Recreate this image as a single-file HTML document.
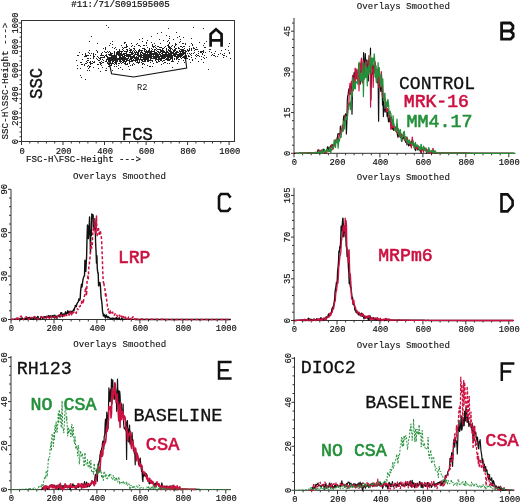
<!DOCTYPE html>
<html><head><meta charset="utf-8"><style>
html,body{margin:0;padding:0;background:#fff;width:520px;height:503px;overflow:hidden}
svg{display:block;will-change:transform}
text{font-family:"Liberation Mono",monospace}
</style></head><body>
<svg width="520" height="503" viewBox="0 0 520 503">
<rect width="520" height="503" fill="#fff"/>
<text x="71.2" y="7.4" font-family="Liberation Mono" font-size="9.15" font-weight="normal" fill="#111" text-anchor="start" stroke="#000" stroke-width="0.18">#11:/71/S091595005</text>
<rect x="21.5" y="20.5" width="213" height="121" fill="none" stroke="#333" stroke-width="1"/>
<path d="M21.5,141.5v3.5M29.8,141.5v2M38.1,141.5v2M46.4,141.5v2M54.7,141.5v2M63.0,141.5v3.5M71.3,141.5v2M79.6,141.5v2M87.9,141.5v2M96.2,141.5v2M104.5,141.5v3.5M112.8,141.5v2M121.1,141.5v2M129.5,141.5v2M137.8,141.5v2M146.1,141.5v3.5M154.4,141.5v2M162.7,141.5v2M171.0,141.5v2M179.3,141.5v2M187.6,141.5v3.5M195.9,141.5v2M204.2,141.5v2M212.5,141.5v2M220.8,141.5v2M229.1,141.5v3.5M21.5,141.5h-3M21.5,136.8h-2M21.5,132.0h-2M21.5,127.3h-2M21.5,122.5h-2M21.5,117.8h-3M21.5,113.1h-2M21.5,108.3h-2M21.5,103.6h-2M21.5,98.8h-2M21.5,94.1h-3M21.5,89.4h-2M21.5,84.6h-2M21.5,79.9h-2M21.5,75.1h-2M21.5,70.4h-3M21.5,65.7h-2M21.5,60.9h-2M21.5,56.2h-2M21.5,51.4h-2M21.5,46.7h-3M21.5,42.0h-2M21.5,37.2h-2M21.5,32.5h-2M21.5,27.7h-2M21.5,23.0h-3" stroke="#333" stroke-width="1" fill="none"/>
<text x="22.1" y="153.6" font-family="Liberation Mono" font-size="8.8" font-weight="normal" fill="#111" text-anchor="middle" stroke="#000" stroke-width="0.15">0</text>
<text transform="translate(18.2,141.5) rotate(-90)" x="0" y="0" font-family="Liberation Mono" font-size="8.8" font-weight="normal" fill="#111" text-anchor="middle" stroke="#000" stroke-width="0.15">0</text>
<text x="63.6" y="153.6" font-family="Liberation Mono" font-size="8.8" font-weight="normal" fill="#111" text-anchor="middle" stroke="#000" stroke-width="0.15">200</text>
<text transform="translate(18.2,117.8) rotate(-90)" x="0" y="0" font-family="Liberation Mono" font-size="8.8" font-weight="normal" fill="#111" text-anchor="middle" stroke="#000" stroke-width="0.15">200</text>
<text x="105.1" y="153.6" font-family="Liberation Mono" font-size="8.8" font-weight="normal" fill="#111" text-anchor="middle" stroke="#000" stroke-width="0.15">400</text>
<text transform="translate(18.2,94.1) rotate(-90)" x="0" y="0" font-family="Liberation Mono" font-size="8.8" font-weight="normal" fill="#111" text-anchor="middle" stroke="#000" stroke-width="0.15">400</text>
<text x="146.7" y="153.6" font-family="Liberation Mono" font-size="8.8" font-weight="normal" fill="#111" text-anchor="middle" stroke="#000" stroke-width="0.15">600</text>
<text transform="translate(18.2,70.4) rotate(-90)" x="0" y="0" font-family="Liberation Mono" font-size="8.8" font-weight="normal" fill="#111" text-anchor="middle" stroke="#000" stroke-width="0.15">600</text>
<text x="188.2" y="153.6" font-family="Liberation Mono" font-size="8.8" font-weight="normal" fill="#111" text-anchor="middle" stroke="#000" stroke-width="0.15">800</text>
<text transform="translate(18.2,46.7) rotate(-90)" x="0" y="0" font-family="Liberation Mono" font-size="8.8" font-weight="normal" fill="#111" text-anchor="middle" stroke="#000" stroke-width="0.15">800</text>
<text x="229.7" y="153.6" font-family="Liberation Mono" font-size="8.8" font-weight="normal" fill="#111" text-anchor="middle" stroke="#000" stroke-width="0.15">1000</text>
<text transform="translate(18.2,23.0) rotate(-90)" x="0" y="0" font-family="Liberation Mono" font-size="8.8" font-weight="normal" fill="#111" text-anchor="middle" stroke="#000" stroke-width="0.15">1000</text>
<text x="26.0" y="161.6" font-family="Liberation Mono" font-size="9.1" font-weight="normal" fill="#111" text-anchor="start" textLength="115" lengthAdjust="spacingAndGlyphs" stroke="#000" stroke-width="0.15">FSC-H\FSC-Height ---&gt;</text>
<text transform="translate(7.8,139.6) rotate(-90)" x="0" y="0" font-family="Liberation Mono" font-size="9.1" font-weight="normal" fill="#111" text-anchor="start" textLength="117" lengthAdjust="spacingAndGlyphs" stroke="#000" stroke-width="0.15">SSC-H\SSC-Height ---&gt;</text>
<text transform="translate(42.4,83.4) rotate(-90)" x="0" y="0" font-family="Liberation Mono" font-size="17.6" font-weight="normal" fill="#111" text-anchor="middle" textLength="31" lengthAdjust="spacingAndGlyphs" stroke="#111" stroke-width="0.45">SSC</text>
<text x="137.3" y="139.5" font-family="Liberation Mono" font-size="17.6" font-weight="normal" fill="#111" text-anchor="middle" textLength="31" lengthAdjust="spacingAndGlyphs" stroke="#111" stroke-width="0.45">FCS</text>
<path d="M210.6,46.8V34.2L216,29.3L221.6,34.2V46.8M210.6,40.4H221.6" stroke="#111" stroke-width="2.7" fill="none" stroke-linejoin="miter"/>
<path d="M157,55h1v1h-1zM177,52h1v1h-1zM170,54h1v1h-1zM124,56h1v1h-1zM128,54h1v1h-1zM175,52h1v1h-1zM105,61h1v1h-1zM172,56h1v1h-1zM172,57h1v1h-1zM145,49h1v1h-1zM130,55h1v1h-1zM129,55h1v1h-1zM131,57h1v1h-1zM143,54h1v1h-1zM147,53h1v1h-1zM153,57h1v1h-1zM189,53h1v1h-1zM172,49h1v1h-1zM157,59h1v1h-1zM186,56h1v1h-1zM126,55h1v1h-1zM120,60h1v1h-1zM154,52h1v1h-1zM112,61h1v1h-1zM109,57h1v1h-1zM148,52h1v1h-1zM145,54h1v1h-1zM183,50h1v1h-1zM156,55h1v1h-1zM148,56h1v1h-1zM147,56h1v1h-1zM128,55h1v1h-1zM110,43h1v1h-1zM122,58h1v1h-1zM161,47h1v1h-1zM121,58h1v1h-1zM135,60h1v1h-1zM109,59h1v1h-1zM173,52h1v1h-1zM119,57h1v1h-1zM128,56h1v1h-1zM177,51h1v1h-1zM149,53h1v1h-1zM173,50h1v1h-1zM158,58h1v1h-1zM163,54h1v1h-1zM113,61h1v1h-1zM153,54h1v1h-1zM144,56h1v1h-1zM175,53h1v1h-1zM137,58h1v1h-1zM154,57h1v1h-1zM111,59h1v1h-1zM138,53h1v1h-1zM133,53h1v1h-1zM120,62h1v1h-1zM169,53h1v1h-1zM137,55h1v1h-1zM183,57h1v1h-1zM153,58h1v1h-1zM156,56h1v1h-1zM159,53h1v1h-1zM162,61h1v1h-1zM119,59h1v1h-1zM144,57h1v1h-1zM141,50h1v1h-1zM118,52h1v1h-1zM183,54h1v1h-1zM125,58h1v1h-1zM162,54h1v1h-1zM129,52h1v1h-1zM176,48h1v1h-1zM171,56h1v1h-1zM180,56h1v1h-1zM178,61h1v1h-1zM154,58h1v1h-1zM121,55h1v1h-1zM123,54h1v1h-1zM180,39h1v1h-1zM150,53h1v1h-1zM123,57h1v1h-1zM177,56h1v1h-1zM159,56h1v1h-1zM155,57h1v1h-1zM137,57h1v1h-1zM138,58h1v1h-1zM125,61h1v1h-1zM109,54h1v1h-1zM146,50h1v1h-1zM151,60h1v1h-1zM131,60h1v1h-1zM168,56h1v1h-1zM112,53h1v1h-1zM136,57h1v1h-1zM117,58h1v1h-1zM184,52h1v1h-1zM160,56h1v1h-1zM151,58h1v1h-1zM178,54h1v1h-1zM155,55h1v1h-1zM136,59h1v1h-1zM149,54h1v1h-1zM167,55h1v1h-1zM180,52h1v1h-1zM119,52h1v1h-1zM179,56h1v1h-1zM111,54h1v1h-1zM172,55h1v1h-1zM120,51h1v1h-1zM142,52h1v1h-1zM172,52h1v1h-1zM105,55h1v1h-1zM156,50h1v1h-1zM169,56h1v1h-1zM147,55h1v1h-1zM165,55h1v1h-1zM127,55h1v1h-1zM123,58h1v1h-1zM135,53h1v1h-1zM125,57h1v1h-1zM134,58h1v1h-1zM180,53h1v1h-1zM153,53h1v1h-1zM135,52h1v1h-1zM128,57h1v1h-1zM142,55h1v1h-1zM148,57h1v1h-1zM150,62h1v1h-1zM166,55h1v1h-1zM153,56h1v1h-1zM146,45h1v1h-1zM175,54h1v1h-1zM142,53h1v1h-1zM180,57h1v1h-1zM113,57h1v1h-1zM143,53h1v1h-1zM150,54h1v1h-1zM184,53h1v1h-1zM160,49h1v1h-1zM165,53h1v1h-1zM158,57h1v1h-1zM186,58h1v1h-1zM135,58h1v1h-1zM141,57h1v1h-1zM126,60h1v1h-1zM122,62h1v1h-1zM178,56h1v1h-1zM171,53h1v1h-1zM119,58h1v1h-1zM154,56h1v1h-1zM155,56h1v1h-1zM162,51h1v1h-1zM133,48h1v1h-1zM144,48h1v1h-1zM158,55h1v1h-1zM122,51h1v1h-1zM113,60h1v1h-1zM143,58h1v1h-1zM172,58h1v1h-1zM164,60h1v1h-1zM117,53h1v1h-1zM181,56h1v1h-1zM170,55h1v1h-1zM178,55h1v1h-1zM146,58h1v1h-1zM181,50h1v1h-1zM111,56h1v1h-1zM111,55h1v1h-1zM110,55h1v1h-1zM124,57h1v1h-1zM126,51h1v1h-1zM123,53h1v1h-1zM111,58h1v1h-1zM119,50h1v1h-1zM163,51h1v1h-1zM112,56h1v1h-1zM132,57h1v1h-1zM181,51h1v1h-1zM148,58h1v1h-1zM173,54h1v1h-1zM125,59h1v1h-1zM154,53h1v1h-1zM110,61h1v1h-1zM173,55h1v1h-1zM181,54h1v1h-1zM174,54h1v1h-1zM112,59h1v1h-1zM133,59h1v1h-1zM117,59h1v1h-1zM156,57h1v1h-1zM168,54h1v1h-1zM133,60h1v1h-1zM168,46h1v1h-1zM116,61h1v1h-1zM167,54h1v1h-1zM174,49h1v1h-1zM121,57h1v1h-1zM150,52h1v1h-1zM158,61h1v1h-1zM119,51h1v1h-1zM157,56h1v1h-1zM156,53h1v1h-1zM174,59h1v1h-1zM170,50h1v1h-1zM176,52h1v1h-1zM119,49h1v1h-1zM159,59h1v1h-1zM123,50h1v1h-1zM150,59h1v1h-1zM182,51h1v1h-1zM138,63h1v1h-1zM127,58h1v1h-1zM145,55h1v1h-1zM160,58h1v1h-1zM113,59h1v1h-1zM137,54h1v1h-1zM119,60h1v1h-1zM170,47h1v1h-1zM137,62h1v1h-1zM138,55h1v1h-1zM152,53h1v1h-1zM131,50h1v1h-1zM132,51h1v1h-1zM116,56h1v1h-1zM115,59h1v1h-1zM166,56h1v1h-1zM114,54h1v1h-1zM119,54h1v1h-1zM117,61h1v1h-1zM177,55h1v1h-1zM134,51h1v1h-1zM156,52h1v1h-1zM121,59h1v1h-1zM174,50h1v1h-1zM135,59h1v1h-1zM164,56h1v1h-1zM114,55h1v1h-1zM164,58h1v1h-1zM168,53h1v1h-1zM163,55h1v1h-1zM137,53h1v1h-1zM115,56h1v1h-1zM167,58h1v1h-1zM124,61h1v1h-1zM127,56h1v1h-1zM149,60h1v1h-1zM164,54h1v1h-1zM171,61h1v1h-1zM163,50h1v1h-1zM184,57h1v1h-1zM183,51h1v1h-1zM169,42h1v1h-1zM138,59h1v1h-1zM159,57h1v1h-1zM122,60h1v1h-1zM168,57h1v1h-1zM168,59h1v1h-1zM165,54h1v1h-1zM144,58h1v1h-1zM140,55h1v1h-1zM108,61h1v1h-1zM148,50h1v1h-1zM138,57h1v1h-1zM149,55h1v1h-1zM164,51h1v1h-1zM171,52h1v1h-1zM178,47h1v1h-1zM137,52h1v1h-1zM170,48h1v1h-1zM187,53h1v1h-1zM170,49h1v1h-1zM182,52h1v1h-1zM111,60h1v1h-1zM189,50h1v1h-1zM119,53h1v1h-1zM142,57h1v1h-1zM167,52h1v1h-1zM126,59h1v1h-1zM168,49h1v1h-1zM115,58h1v1h-1zM114,53h1v1h-1zM133,57h1v1h-1zM161,53h1v1h-1zM114,52h1v1h-1zM179,54h1v1h-1zM138,51h1v1h-1zM125,51h1v1h-1zM148,61h1v1h-1zM120,54h1v1h-1zM176,56h1v1h-1zM146,52h1v1h-1zM124,51h1v1h-1zM164,62h1v1h-1zM130,58h1v1h-1zM149,57h1v1h-1zM147,61h1v1h-1zM148,59h1v1h-1zM138,52h1v1h-1zM169,48h1v1h-1zM177,57h1v1h-1zM121,61h1v1h-1zM118,59h1v1h-1zM182,50h1v1h-1zM129,61h1v1h-1zM185,55h1v1h-1zM126,58h1v1h-1zM147,57h1v1h-1zM109,60h1v1h-1zM134,52h1v1h-1zM114,64h1v1h-1zM146,55h1v1h-1zM166,48h1v1h-1zM162,56h1v1h-1zM161,51h1v1h-1zM129,56h1v1h-1zM124,59h1v1h-1zM169,63h1v1h-1zM122,59h1v1h-1zM179,55h1v1h-1zM154,51h1v1h-1zM135,54h1v1h-1zM182,49h1v1h-1zM118,55h1v1h-1zM149,51h1v1h-1zM120,55h1v1h-1zM171,48h1v1h-1zM130,51h1v1h-1zM161,55h1v1h-1zM184,56h1v1h-1zM140,58h1v1h-1zM162,49h1v1h-1zM172,60h1v1h-1zM137,60h1v1h-1zM159,54h1v1h-1zM126,52h1v1h-1zM149,56h1v1h-1zM169,47h1v1h-1zM113,55h1v1h-1zM161,57h1v1h-1zM109,58h1v1h-1zM162,55h1v1h-1zM147,54h1v1h-1zM167,51h1v1h-1zM152,61h1v1h-1zM179,51h1v1h-1zM111,64h1v1h-1zM145,51h1v1h-1zM151,50h1v1h-1zM122,54h1v1h-1zM143,56h1v1h-1zM168,55h1v1h-1zM151,48h1v1h-1zM170,58h1v1h-1zM162,48h1v1h-1zM157,49h1v1h-1zM140,52h1v1h-1zM166,52h1v1h-1zM141,60h1v1h-1zM171,54h1v1h-1zM138,54h1v1h-1zM174,47h1v1h-1zM166,50h1v1h-1zM110,59h1v1h-1zM136,58h1v1h-1zM152,51h1v1h-1zM158,46h1v1h-1zM162,52h1v1h-1zM140,53h1v1h-1zM130,52h1v1h-1zM143,55h1v1h-1zM185,53h1v1h-1zM143,57h1v1h-1zM139,55h1v1h-1zM150,51h1v1h-1zM181,53h1v1h-1zM176,59h1v1h-1zM136,54h1v1h-1zM128,60h1v1h-1zM176,57h1v1h-1zM147,60h1v1h-1zM160,51h1v1h-1zM176,54h1v1h-1zM131,56h1v1h-1zM141,56h1v1h-1zM172,53h1v1h-1zM144,53h1v1h-1zM168,50h1v1h-1zM145,58h1v1h-1zM150,58h1v1h-1zM125,53h1v1h-1zM132,60h1v1h-1zM163,56h1v1h-1zM167,59h1v1h-1zM111,53h1v1h-1zM164,55h1v1h-1zM142,50h1v1h-1zM112,55h1v1h-1zM159,52h1v1h-1zM147,52h1v1h-1zM122,55h1v1h-1zM130,59h1v1h-1zM132,61h1v1h-1zM115,47h1v1h-1zM140,50h1v1h-1zM123,59h1v1h-1zM131,54h1v1h-1zM156,62h1v1h-1zM167,56h1v1h-1zM166,51h1v1h-1zM144,49h1v1h-1zM116,55h1v1h-1zM117,52h1v1h-1zM121,53h1v1h-1zM130,57h1v1h-1zM119,55h1v1h-1zM108,58h1v1h-1zM143,48h1v1h-1zM127,59h1v1h-1zM168,58h1v1h-1zM157,57h1v1h-1zM141,54h1v1h-1zM171,51h1v1h-1zM162,53h1v1h-1zM155,52h1v1h-1zM170,59h1v1h-1zM177,58h1v1h-1zM134,56h1v1h-1zM110,60h1v1h-1zM175,49h1v1h-1zM180,51h1v1h-1zM185,44h1v1h-1zM160,47h1v1h-1zM151,52h1v1h-1zM183,49h1v1h-1zM156,54h1v1h-1zM135,57h1v1h-1zM145,57h1v1h-1zM109,63h1v1h-1zM133,55h1v1h-1zM115,57h1v1h-1zM116,58h1v1h-1zM131,58h1v1h-1zM144,54h1v1h-1zM179,50h1v1h-1zM129,59h1v1h-1zM181,46h1v1h-1zM160,52h1v1h-1zM174,58h1v1h-1zM139,45h1v1h-1zM107,56h1v1h-1zM130,50h1v1h-1zM118,65h1v1h-1zM168,44h1v1h-1zM163,58h1v1h-1zM126,61h1v1h-1zM183,52h1v1h-1zM128,58h1v1h-1zM116,60h1v1h-1zM169,50h1v1h-1zM119,56h1v1h-1zM147,58h1v1h-1zM151,54h1v1h-1zM116,52h1v1h-1zM154,49h1v1h-1zM133,56h1v1h-1zM132,54h1v1h-1zM167,57h1v1h-1zM165,57h1v1h-1zM136,56h1v1h-1zM163,52h1v1h-1zM140,54h1v1h-1zM181,55h1v1h-1zM164,57h1v1h-1zM125,63h1v1h-1zM166,58h1v1h-1zM144,55h1v1h-1zM174,55h1v1h-1zM116,54h1v1h-1zM124,54h1v1h-1zM111,57h1v1h-1zM143,59h1v1h-1zM166,53h1v1h-1zM130,49h1v1h-1zM146,51h1v1h-1zM175,56h1v1h-1zM148,55h1v1h-1zM169,54h1v1h-1zM114,51h1v1h-1zM178,48h1v1h-1zM138,62h1v1h-1zM147,59h1v1h-1zM184,48h1v1h-1zM137,59h1v1h-1zM116,53h1v1h-1zM151,51h1v1h-1zM181,58h1v1h-1zM158,49h1v1h-1zM132,58h1v1h-1zM164,47h1v1h-1zM153,46h1v1h-1zM151,56h1v1h-1zM152,54h1v1h-1zM155,47h1v1h-1zM170,53h1v1h-1zM117,54h1v1h-1zM164,52h1v1h-1zM140,56h1v1h-1zM139,50h1v1h-1zM161,60h1v1h-1zM118,51h1v1h-1zM182,55h1v1h-1zM116,59h1v1h-1zM123,60h1v1h-1zM175,50h1v1h-1zM180,49h1v1h-1zM146,57h1v1h-1zM179,53h1v1h-1zM149,50h1v1h-1zM134,55h1v1h-1zM120,56h1v1h-1zM171,58h1v1h-1zM134,46h1v1h-1zM110,65h1v1h-1zM177,54h1v1h-1zM148,51h1v1h-1zM134,54h1v1h-1zM130,56h1v1h-1zM112,57h1v1h-1zM136,52h1v1h-1zM166,59h1v1h-1zM139,51h1v1h-1zM141,62h1v1h-1zM154,46h1v1h-1zM144,50h1v1h-1zM121,63h1v1h-1zM186,51h1v1h-1zM163,60h1v1h-1zM182,53h1v1h-1zM115,60h1v1h-1zM134,60h1v1h-1zM182,54h1v1h-1zM113,58h1v1h-1zM180,54h1v1h-1zM112,60h1v1h-1zM153,51h1v1h-1zM165,52h1v1h-1zM187,49h1v1h-1zM122,56h1v1h-1zM140,59h1v1h-1zM178,59h1v1h-1zM128,66h1v1h-1zM142,59h1v1h-1zM138,45h1v1h-1zM166,49h1v1h-1zM145,61h1v1h-1zM140,46h1v1h-1zM120,58h1v1h-1zM153,55h1v1h-1zM160,50h1v1h-1zM129,60h1v1h-1zM136,51h1v1h-1zM166,54h1v1h-1zM155,54h1v1h-1zM129,54h1v1h-1zM114,58h1v1h-1zM126,53h1v1h-1zM185,60h1v1h-1zM188,55h1v1h-1zM110,53h1v1h-1zM149,52h1v1h-1zM108,59h1v1h-1zM150,55h1v1h-1zM114,57h1v1h-1zM162,57h1v1h-1zM108,60h1v1h-1zM125,62h1v1h-1zM155,59h1v1h-1zM115,61h1v1h-1zM110,57h1v1h-1zM108,54h1v1h-1zM120,59h1v1h-1zM159,58h1v1h-1zM118,63h1v1h-1zM115,55h1v1h-1zM160,55h1v1h-1zM150,60h1v1h-1zM126,56h1v1h-1zM155,49h1v1h-1zM170,51h1v1h-1zM156,58h1v1h-1zM108,63h1v1h-1zM174,56h1v1h-1zM114,60h1v1h-1zM118,58h1v1h-1zM175,55h1v1h-1zM170,57h1v1h-1zM109,66h1v1h-1zM173,53h1v1h-1zM185,52h1v1h-1zM126,54h1v1h-1zM175,48h1v1h-1zM134,57h1v1h-1zM143,63h1v1h-1zM150,57h1v1h-1zM185,54h1v1h-1zM152,56h1v1h-1zM110,63h1v1h-1zM181,49h1v1h-1zM123,61h1v1h-1zM173,51h1v1h-1zM161,50h1v1h-1zM185,56h1v1h-1zM158,51h1v1h-1zM116,57h1v1h-1zM127,50h1v1h-1zM106,59h1v1h-1zM138,56h1v1h-1zM131,53h1v1h-1zM159,49h1v1h-1zM183,56h1v1h-1zM148,54h1v1h-1zM145,59h1v1h-1zM131,61h1v1h-1zM171,55h1v1h-1zM157,51h1v1h-1zM182,47h1v1h-1zM136,60h1v1h-1zM114,56h1v1h-1zM130,54h1v1h-1zM116,62h1v1h-1zM158,56h1v1h-1zM184,46h1v1h-1zM185,51h1v1h-1zM123,62h1v1h-1zM179,48h1v1h-1zM174,51h1v1h-1zM178,57h1v1h-1zM160,54h1v1h-1zM124,55h1v1h-1zM131,52h1v1h-1zM120,53h1v1h-1zM169,57h1v1h-1zM182,57h1v1h-1zM140,57h1v1h-1zM126,49h1v1h-1zM158,52h1v1h-1zM145,56h1v1h-1zM165,59h1v1h-1zM141,55h1v1h-1zM145,53h1v1h-1zM178,52h1v1h-1zM115,63h1v1h-1zM117,51h1v1h-1zM110,58h1v1h-1zM107,57h1v1h-1zM125,55h1v1h-1zM118,54h1v1h-1zM176,51h1v1h-1zM149,48h1v1h-1zM169,59h1v1h-1zM139,62h1v1h-1zM120,57h1v1h-1zM142,63h1v1h-1zM145,52h1v1h-1zM109,61h1v1h-1zM114,59h1v1h-1zM147,51h1v1h-1zM132,53h1v1h-1zM156,59h1v1h-1zM169,60h1v1h-1zM154,54h1v1h-1zM110,62h1v1h-1zM183,53h1v1h-1zM169,51h1v1h-1zM175,45h1v1h-1zM142,48h1v1h-1zM176,58h1v1h-1zM154,50h1v1h-1zM174,46h1v1h-1zM122,57h1v1h-1zM155,53h1v1h-1zM111,63h1v1h-1zM148,60h1v1h-1zM144,61h1v1h-1zM175,44h1v1h-1zM144,51h1v1h-1zM121,52h1v1h-1zM189,56h1v1h-1zM112,63h1v1h-1zM93,67h1v1h-1zM169,55h1v1h-1zM129,50h1v1h-1zM126,64h1v1h-1zM184,50h1v1h-1zM183,46h1v1h-1zM76,60h1v1h-1zM112,47h1v1h-1zM193,53h1v1h-1zM99,58h1v1h-1zM126,47h1v1h-1zM136,44h1v1h-1zM179,42h1v1h-1zM151,53h1v1h-1zM152,60h1v1h-1zM173,61h1v1h-1zM155,58h1v1h-1zM194,52h1v1h-1zM180,46h1v1h-1zM139,49h1v1h-1zM96,58h1v1h-1zM85,63h1v1h-1zM101,55h1v1h-1zM171,46h1v1h-1zM124,60h1v1h-1zM152,58h1v1h-1zM122,69h1v1h-1zM78,55h1v1h-1zM86,61h1v1h-1zM153,47h1v1h-1zM167,63h1v1h-1zM158,60h1v1h-1zM142,61h1v1h-1zM131,59h1v1h-1zM191,38h1v1h-1zM129,63h1v1h-1zM129,69h1v1h-1zM127,51h1v1h-1zM158,59h1v1h-1zM129,62h1v1h-1zM111,65h1v1h-1zM163,40h1v1h-1zM94,61h1v1h-1zM199,42h1v1h-1zM136,62h1v1h-1zM105,47h1v1h-1zM152,66h1v1h-1zM172,45h1v1h-1zM93,62h1v1h-1zM92,63h1v1h-1zM172,67h1v1h-1zM114,66h1v1h-1zM105,49h1v1h-1zM144,60h1v1h-1zM147,65h1v1h-1zM77,65h1v1h-1zM127,49h1v1h-1zM161,58h1v1h-1zM144,64h1v1h-1zM121,51h1v1h-1zM110,52h1v1h-1zM102,62h1v1h-1zM184,58h1v1h-1zM131,46h1v1h-1zM98,68h1v1h-1zM123,56h1v1h-1zM183,60h1v1h-1zM162,58h1v1h-1zM161,64h1v1h-1zM134,64h1v1h-1zM144,45h1v1h-1zM160,59h1v1h-1zM117,60h1v1h-1zM132,65h1v1h-1zM112,44h1v1h-1zM77,55h1v1h-1zM133,63h1v1h-1zM106,56h1v1h-1zM139,60h1v1h-1zM179,59h1v1h-1zM143,45h1v1h-1zM124,63h1v1h-1zM125,42h1v1h-1zM151,42h1v1h-1zM152,45h1v1h-1zM97,59h1v1h-1zM96,50h1v1h-1zM123,48h1v1h-1zM118,68h1v1h-1zM139,39h1v1h-1zM142,64h1v1h-1zM144,59h1v1h-1zM106,52h1v1h-1zM114,62h1v1h-1zM167,60h1v1h-1zM130,61h1v1h-1zM90,61h1v1h-1zM127,63h1v1h-1zM165,62h1v1h-1zM198,61h1v1h-1zM100,71h1v1h-1zM107,51h1v1h-1zM172,59h1v1h-1zM150,56h1v1h-1zM102,67h1v1h-1zM163,48h1v1h-1zM141,52h1v1h-1zM154,43h1v1h-1zM169,46h1v1h-1zM132,45h1v1h-1zM143,61h1v1h-1zM98,64h1v1h-1zM124,42h1v1h-1zM160,43h1v1h-1zM183,37h1v1h-1zM113,63h1v1h-1zM202,53h1v1h-1zM142,60h1v1h-1zM113,56h1v1h-1zM170,56h1v1h-1zM191,53h1v1h-1zM97,43h1v1h-1zM187,50h1v1h-1zM132,64h1v1h-1zM185,50h1v1h-1zM93,55h1v1h-1zM168,60h1v1h-1zM203,50h1v1h-1zM192,45h1v1h-1zM161,32h1v1h-1zM124,43h1v1h-1zM131,43h1v1h-1zM115,62h1v1h-1zM145,60h1v1h-1zM139,59h1v1h-1zM126,45h1v1h-1zM157,46h1v1h-1zM103,48h1v1h-1zM122,49h1v1h-1zM84,65h1v1h-1zM183,43h1v1h-1zM105,52h1v1h-1zM168,52h1v1h-1zM155,60h1v1h-1zM114,48h1v1h-1zM121,54h1v1h-1zM168,47h1v1h-1zM106,68h1v1h-1zM112,58h1v1h-1zM172,61h1v1h-1zM192,44h1v1h-1zM163,57h1v1h-1zM159,61h1v1h-1zM186,57h1v1h-1zM182,43h1v1h-1zM209,51h1v1h-1zM146,59h1v1h-1zM170,52h1v1h-1zM141,51h1v1h-1zM109,45h1v1h-1zM97,51h1v1h-1zM109,51h1v1h-1zM165,46h1v1h-1zM127,54h1v1h-1zM116,49h1v1h-1zM126,44h1v1h-1zM107,59h1v1h-1zM157,54h1v1h-1zM120,61h1v1h-1zM93,57h1v1h-1zM81,62h1v1h-1zM88,65h1v1h-1zM152,46h1v1h-1zM174,53h1v1h-1zM108,64h1v1h-1zM146,54h1v1h-1zM112,62h1v1h-1zM192,60h1v1h-1zM165,56h1v1h-1zM104,51h1v1h-1zM124,58h1v1h-1zM106,54h1v1h-1zM151,57h1v1h-1zM125,64h1v1h-1zM146,43h1v1h-1zM121,45h1v1h-1zM138,50h1v1h-1zM132,52h1v1h-1zM127,46h1v1h-1zM122,47h1v1h-1zM157,62h1v1h-1zM124,47h1v1h-1zM90,66h1v1h-1zM151,55h1v1h-1zM176,53h1v1h-1zM171,57h1v1h-1zM135,61h1v1h-1zM101,65h1v1h-1zM190,54h1v1h-1zM79,52h1v1h-1zM186,55h1v1h-1zM142,67h1v1h-1zM159,47h1v1h-1zM156,48h1v1h-1zM92,61h1v1h-1zM173,39h1v1h-1zM126,46h1v1h-1zM156,61h1v1h-1zM103,55h1v1h-1zM116,63h1v1h-1zM102,55h1v1h-1zM125,47h1v1h-1zM204,43h1v1h-1zM146,56h1v1h-1zM127,64h1v1h-1zM141,59h1v1h-1zM89,53h1v1h-1zM139,56h1v1h-1zM176,44h1v1h-1zM203,52h1v1h-1zM161,56h1v1h-1zM142,41h1v1h-1zM116,64h1v1h-1zM87,55h1v1h-1zM90,62h1v1h-1zM99,62h1v1h-1zM147,47h1v1h-1zM175,43h1v1h-1zM180,41h1v1h-1zM152,49h1v1h-1zM153,63h1v1h-1zM97,64h1v1h-1zM137,43h1v1h-1zM158,54h1v1h-1zM163,63h1v1h-1zM131,49h1v1h-1zM150,66h1v1h-1zM190,62h1v1h-1zM134,49h1v1h-1zM195,55h1v1h-1zM177,63h1v1h-1zM127,60h1v1h-1zM119,63h1v1h-1zM195,49h1v1h-1zM105,70h1v1h-1zM189,46h1v1h-1zM110,54h1v1h-1zM159,39h1v1h-1zM91,53h1v1h-1zM109,55h1v1h-1zM134,48h1v1h-1zM106,70h1v1h-1zM101,63h1v1h-1zM169,43h1v1h-1zM132,56h1v1h-1zM119,61h1v1h-1zM86,55h1v1h-1zM152,44h1v1h-1zM106,61h1v1h-1zM167,45h1v1h-1zM185,58h1v1h-1zM180,55h1v1h-1zM146,42h1v1h-1zM97,52h1v1h-1zM168,45h1v1h-1zM100,59h1v1h-1zM86,63h1v1h-1zM203,57h1v1h-1zM142,38h1v1h-1zM120,67h1v1h-1zM77,68h1v1h-1zM206,41h1v1h-1zM129,48h1v1h-1zM130,65h1v1h-1zM149,66h1v1h-1zM184,62h1v1h-1zM162,50h1v1h-1zM133,50h1v1h-1zM161,59h1v1h-1zM112,70h1v1h-1zM80,62h1v1h-1zM168,40h1v1h-1zM108,66h1v1h-1zM177,37h1v1h-1zM139,61h1v1h-1zM137,61h1v1h-1zM124,53h1v1h-1zM98,60h1v1h-1zM116,66h1v1h-1zM157,53h1v1h-1zM118,53h1v1h-1zM151,36h1v1h-1zM149,49h1v1h-1zM160,60h1v1h-1zM104,56h1v1h-1zM135,50h1v1h-1zM201,51h1v1h-1zM189,48h1v1h-1zM194,48h1v1h-1zM205,52h1v1h-1zM223,57h1v1h-1zM224,55h1v1h-1zM191,57h1v1h-1zM197,49h1v1h-1zM215,56h1v1h-1zM203,51h1v1h-1zM211,55h1v1h-1zM218,54h1v1h-1zM215,51h1v1h-1zM224,53h1v1h-1zM189,49h1v1h-1zM198,53h1v1h-1zM187,58h1v1h-1zM208,69h1v1h-1zM213,55h1v1h-1zM196,54h1v1h-1zM206,57h1v1h-1zM193,47h1v1h-1zM194,50h1v1h-1zM202,54h1v1h-1zM228,46h1v1h-1zM201,59h1v1h-1zM217,56h1v1h-1zM202,51h1v1h-1zM191,48h1v1h-1zM193,48h1v1h-1zM220,53h1v1h-1zM204,55h1v1h-1zM198,55h1v1h-1zM229,52h1v1h-1zM225,49h1v1h-1zM197,55h1v1h-1zM205,47h1v1h-1zM211,52h1v1h-1zM192,59h1v1h-1zM204,58h1v1h-1zM198,51h1v1h-1zM221,50h1v1h-1zM189,59h1v1h-1zM230,58h1v1h-1zM196,47h1v1h-1zM200,51h1v1h-1zM226,56h1v1h-1zM188,56h1v1h-1zM203,62h1v1h-1zM212,54h1v1h-1zM200,52h1v1h-1zM228,50h1v1h-1zM195,58h1v1h-1zM222,54h1v1h-1zM214,53h1v1h-1zM204,47h1v1h-1zM209,49h1v1h-1zM188,51h1v1h-1zM188,50h1v1h-1zM229,53h1v1h-1zM196,56h1v1h-1zM201,52h1v1h-1zM196,49h1v1h-1zM214,55h1v1h-1zM229,43h1v1h-1zM203,45h1v1h-1zM199,56h1v1h-1zM201,56h1v1h-1zM191,50h1v1h-1zM210,49h1v1h-1zM223,55h1v1h-1zM191,55h1v1h-1zM191,49h1v1h-1zM105,48h1v1h-1zM93,56h1v1h-1zM87,60h1v1h-1zM103,60h1v1h-1zM87,58h1v1h-1zM88,68h1v1h-1zM106,55h1v1h-1zM94,62h1v1h-1zM108,57h1v1h-1zM89,50h1v1h-1zM89,41h1v1h-1zM93,53h1v1h-1zM99,60h1v1h-1zM97,56h1v1h-1zM100,62h1v1h-1zM101,57h1v1h-1zM88,55h1v1h-1zM80,75h1v1h-1zM102,57h1v1h-1zM98,57h1v1h-1zM95,54h1v1h-1zM89,62h1v1h-1zM107,58h1v1h-1zM85,53h1v1h-1zM101,61h1v1h-1zM108,52h1v1h-1zM85,55h1v1h-1zM103,57h1v1h-1zM88,52h1v1h-1zM82,59h1v1h-1zM93,54h1v1h-1zM101,54h1v1h-1zM89,70h1v1h-1zM80,68h1v1h-1zM88,58h1v1h-1zM90,64h1v1h-1zM91,63h1v1h-1zM89,66h1v1h-1zM81,77h1v1h-1zM86,56h1v1h-1zM88,60h1v1h-1zM100,58h1v1h-1zM91,36h1v1h-1zM102,52h1v1h-1zM93,58h1v1h-1zM85,54h1v1h-1zM87,66h1v1h-1zM107,63h1v1h-1zM94,56h1v1h-1zM89,67h1v1h-1zM87,70h1v1h-1zM106,60h1v1h-1zM101,53h1v1h-1zM104,57h1v1h-1zM102,59h1v1h-1zM82,54h1v1h-1zM100,63h1v1h-1zM90,63h1v1h-1zM100,64h1v1h-1zM87,62h1v1h-1zM100,57h1v1h-1zM90,55h1v1h-1zM85,79h1v1h-1zM84,56h1v1h-1zM100,55h1v1h-1zM107,62h1v1h-1zM81,64h1v1h-1zM90,58h1v1h-1zM85,56h1v1h-1zM84,64h1v1h-1zM82,64h1v1h-1zM103,62h1v1h-1zM167,41h1v1h-1zM108,27h1v1h-1zM168,28h1v1h-1zM157,33h1v1h-1zM179,36h1v1h-1zM169,38h1v1h-1zM169,36h1v1h-1zM191,43h1v1h-1zM112,41h1v1h-1zM193,27h1v1h-1zM176,32h1v1h-1zM185,43h1v1h-1zM147,40h1v1h-1zM106,25h1v1h-1zM203,28h1v1h-1zM155,45h1v1h-1zM166,35h1v1h-1z" fill="#222" stroke="none"/>
<path d="M108.6,59.8L111.6,73.8L133.6,77L186.7,68L185,54.8" stroke="#111" stroke-width="1.1" fill="none"/>
<text x="137.0" y="89.9" font-family="Liberation Sans" font-size="8.7" font-weight="normal" fill="#111" text-anchor="start">R2</text>
<line x1="294" y1="153.3" x2="294" y2="18" stroke="#333" stroke-width="1"/>
<path d="M294,153.3h-3M294,145.2h-2M294,137.0h-2M294,128.9h-2M294,120.7h-2M294,112.6h-3M294,104.5h-2M294,96.3h-2M294,88.2h-2M294,80.0h-2M294,71.9h-3M294,63.8h-2M294,55.6h-2M294,47.5h-2M294,39.3h-2M294,31.2h-3M294,23.1h-2M294.0,153.3v4M302.6,153.3v2M311.2,153.3v2M319.8,153.3v2M328.4,153.3v2M337.0,153.3v4M345.6,153.3v2M354.1,153.3v2M362.7,153.3v2M371.3,153.3v2M379.9,153.3v4M388.5,153.3v2M397.1,153.3v2M405.7,153.3v2M414.3,153.3v2M422.9,153.3v4M431.5,153.3v2M440.1,153.3v2M448.7,153.3v2M457.2,153.3v2M465.8,153.3v4M474.4,153.3v2M483.0,153.3v2M491.6,153.3v2M500.2,153.3v2M508.8,153.3v4" stroke="#333" stroke-width="1" fill="none"/>
<line x1="294" y1="153.3" x2="514" y2="153.3" stroke="#333" stroke-width="1"/>
<text x="294.5" y="164.5" font-family="Liberation Mono" font-size="8.8" font-weight="normal" fill="#111" text-anchor="middle" stroke="#000" stroke-width="0.15">0</text>
<text x="337.5" y="164.5" font-family="Liberation Mono" font-size="8.8" font-weight="normal" fill="#111" text-anchor="middle" stroke="#000" stroke-width="0.15">200</text>
<text x="380.4" y="164.5" font-family="Liberation Mono" font-size="8.8" font-weight="normal" fill="#111" text-anchor="middle" stroke="#000" stroke-width="0.15">400</text>
<text x="423.4" y="164.5" font-family="Liberation Mono" font-size="8.8" font-weight="normal" fill="#111" text-anchor="middle" stroke="#000" stroke-width="0.15">600</text>
<text x="466.3" y="164.5" font-family="Liberation Mono" font-size="8.8" font-weight="normal" fill="#111" text-anchor="middle" stroke="#000" stroke-width="0.15">800</text>
<text x="509.3" y="164.5" font-family="Liberation Mono" font-size="8.8" font-weight="normal" fill="#111" text-anchor="middle" stroke="#000" stroke-width="0.15">1000</text>
<text transform="translate(290.4,153.3) rotate(-90)" x="0" y="0" font-family="Liberation Mono" font-size="8.8" font-weight="normal" fill="#111" text-anchor="middle" stroke="#000" stroke-width="0.15">0</text>
<text transform="translate(290.4,112.6) rotate(-90)" x="0" y="0" font-family="Liberation Mono" font-size="8.8" font-weight="normal" fill="#111" text-anchor="middle" stroke="#000" stroke-width="0.15">15</text>
<text transform="translate(290.4,71.9) rotate(-90)" x="0" y="0" font-family="Liberation Mono" font-size="8.8" font-weight="normal" fill="#111" text-anchor="middle" stroke="#000" stroke-width="0.15">30</text>
<text transform="translate(290.4,31.2) rotate(-90)" x="0" y="0" font-family="Liberation Mono" font-size="8.8" font-weight="normal" fill="#111" text-anchor="middle" stroke="#000" stroke-width="0.15">45</text>
<text x="356.8" y="8.6" font-family="Liberation Mono" font-size="9.15" font-weight="normal" fill="#111" text-anchor="start" stroke="#000" stroke-width="0.1">Overlays Smoothed</text>
<line x1="11" y1="319.5" x2="11" y2="189.3" stroke="#333" stroke-width="1"/>
<path d="M11,319.5h-3M11,310.8h-2M11,302.1h-2M11,293.5h-2M11,284.8h-2M11,276.1h-3M11,267.4h-2M11,258.7h-2M11,250.1h-2M11,241.4h-2M11,232.7h-3M11,224.0h-2M11,215.3h-2M11,206.7h-2M11,198.0h-2M11,189.3h-3M11.0,319.5v4M19.6,319.5v2M28.2,319.5v2M36.8,319.5v2M45.4,319.5v2M54.0,319.5v4M62.6,319.5v2M71.1,319.5v2M79.7,319.5v2M88.3,319.5v2M96.9,319.5v4M105.5,319.5v2M114.1,319.5v2M122.7,319.5v2M131.3,319.5v2M139.9,319.5v4M148.5,319.5v2M157.1,319.5v2M165.7,319.5v2M174.2,319.5v2M182.8,319.5v4M191.4,319.5v2M200.0,319.5v2M208.6,319.5v2M217.2,319.5v2M225.8,319.5v4" stroke="#333" stroke-width="1" fill="none"/>
<line x1="11" y1="319.5" x2="231" y2="319.5" stroke="#333" stroke-width="1"/>
<text x="11.5" y="330.7" font-family="Liberation Mono" font-size="8.8" font-weight="normal" fill="#111" text-anchor="middle" stroke="#000" stroke-width="0.15">0</text>
<text x="54.5" y="330.7" font-family="Liberation Mono" font-size="8.8" font-weight="normal" fill="#111" text-anchor="middle" stroke="#000" stroke-width="0.15">200</text>
<text x="97.4" y="330.7" font-family="Liberation Mono" font-size="8.8" font-weight="normal" fill="#111" text-anchor="middle" stroke="#000" stroke-width="0.15">400</text>
<text x="140.4" y="330.7" font-family="Liberation Mono" font-size="8.8" font-weight="normal" fill="#111" text-anchor="middle" stroke="#000" stroke-width="0.15">600</text>
<text x="183.3" y="330.7" font-family="Liberation Mono" font-size="8.8" font-weight="normal" fill="#111" text-anchor="middle" stroke="#000" stroke-width="0.15">800</text>
<text x="226.3" y="330.7" font-family="Liberation Mono" font-size="8.8" font-weight="normal" fill="#111" text-anchor="middle" stroke="#000" stroke-width="0.15">1000</text>
<text transform="translate(7.4,319.5) rotate(-90)" x="0" y="0" font-family="Liberation Mono" font-size="8.8" font-weight="normal" fill="#111" text-anchor="middle" stroke="#000" stroke-width="0.15">0</text>
<text transform="translate(7.4,276.1) rotate(-90)" x="0" y="0" font-family="Liberation Mono" font-size="8.8" font-weight="normal" fill="#111" text-anchor="middle" stroke="#000" stroke-width="0.15">30</text>
<text transform="translate(7.4,232.7) rotate(-90)" x="0" y="0" font-family="Liberation Mono" font-size="8.8" font-weight="normal" fill="#111" text-anchor="middle" stroke="#000" stroke-width="0.15">60</text>
<text transform="translate(7.4,189.3) rotate(-90)" x="0" y="0" font-family="Liberation Mono" font-size="8.8" font-weight="normal" fill="#111" text-anchor="middle" stroke="#000" stroke-width="0.15">90</text>
<text x="72.9" y="179.2" font-family="Liberation Mono" font-size="9.15" font-weight="normal" fill="#111" text-anchor="start" stroke="#000" stroke-width="0.1">Overlays Smoothed</text>
<line x1="294" y1="320.5" x2="294" y2="187.8" stroke="#333" stroke-width="1"/>
<path d="M294,320.5h-3M294,312.2h-2M294,303.8h-2M294,295.5h-2M294,287.1h-2M294,278.8h-3M294,270.5h-2M294,262.1h-2M294,253.8h-2M294,245.4h-2M294,237.1h-3M294,228.8h-2M294,220.4h-2M294,212.1h-2M294,203.7h-2M294,195.4h-3M294.0,320.5v4M302.6,320.5v2M311.2,320.5v2M319.8,320.5v2M328.4,320.5v2M337.0,320.5v4M345.6,320.5v2M354.1,320.5v2M362.7,320.5v2M371.3,320.5v2M379.9,320.5v4M388.5,320.5v2M397.1,320.5v2M405.7,320.5v2M414.3,320.5v2M422.9,320.5v4M431.5,320.5v2M440.1,320.5v2M448.7,320.5v2M457.2,320.5v2M465.8,320.5v4M474.4,320.5v2M483.0,320.5v2M491.6,320.5v2M500.2,320.5v2M508.8,320.5v4" stroke="#333" stroke-width="1" fill="none"/>
<line x1="294" y1="320.5" x2="514" y2="320.5" stroke="#333" stroke-width="1"/>
<text x="294.5" y="331.7" font-family="Liberation Mono" font-size="8.8" font-weight="normal" fill="#111" text-anchor="middle" stroke="#000" stroke-width="0.15">0</text>
<text x="337.5" y="331.7" font-family="Liberation Mono" font-size="8.8" font-weight="normal" fill="#111" text-anchor="middle" stroke="#000" stroke-width="0.15">200</text>
<text x="380.4" y="331.7" font-family="Liberation Mono" font-size="8.8" font-weight="normal" fill="#111" text-anchor="middle" stroke="#000" stroke-width="0.15">400</text>
<text x="423.4" y="331.7" font-family="Liberation Mono" font-size="8.8" font-weight="normal" fill="#111" text-anchor="middle" stroke="#000" stroke-width="0.15">600</text>
<text x="466.3" y="331.7" font-family="Liberation Mono" font-size="8.8" font-weight="normal" fill="#111" text-anchor="middle" stroke="#000" stroke-width="0.15">800</text>
<text x="509.3" y="331.7" font-family="Liberation Mono" font-size="8.8" font-weight="normal" fill="#111" text-anchor="middle" stroke="#000" stroke-width="0.15">1000</text>
<text transform="translate(290.4,320.5) rotate(-90)" x="0" y="0" font-family="Liberation Mono" font-size="8.8" font-weight="normal" fill="#111" text-anchor="middle" stroke="#000" stroke-width="0.15">0</text>
<text transform="translate(290.4,278.8) rotate(-90)" x="0" y="0" font-family="Liberation Mono" font-size="8.8" font-weight="normal" fill="#111" text-anchor="middle" stroke="#000" stroke-width="0.15">35</text>
<text transform="translate(290.4,237.1) rotate(-90)" x="0" y="0" font-family="Liberation Mono" font-size="8.8" font-weight="normal" fill="#111" text-anchor="middle" stroke="#000" stroke-width="0.15">70</text>
<text transform="translate(290.4,195.4) rotate(-90)" x="0" y="0" font-family="Liberation Mono" font-size="8.8" font-weight="normal" fill="#111" text-anchor="middle" stroke="#000" stroke-width="0.15">105</text>
<text x="356.8" y="179.6" font-family="Liberation Mono" font-size="9.15" font-weight="normal" fill="#111" text-anchor="start" stroke="#000" stroke-width="0.1">Overlays Smoothed</text>
<line x1="11" y1="489.6" x2="11" y2="356" stroke="#333" stroke-width="1"/>
<path d="M11,489.6h-3M11,480.8h-2M11,472.0h-2M11,463.2h-2M11,454.4h-2M11,445.6h-3M11,436.8h-2M11,428.0h-2M11,419.2h-2M11,410.4h-2M11,401.6h-3M11,392.8h-2M11,384.0h-2M11,375.2h-2M11,366.4h-2M11,357.6h-3M11.0,489.6v4M19.6,489.6v2M28.2,489.6v2M36.8,489.6v2M45.4,489.6v2M54.0,489.6v4M62.6,489.6v2M71.1,489.6v2M79.7,489.6v2M88.3,489.6v2M96.9,489.6v4M105.5,489.6v2M114.1,489.6v2M122.7,489.6v2M131.3,489.6v2M139.9,489.6v4M148.5,489.6v2M157.1,489.6v2M165.7,489.6v2M174.2,489.6v2M182.8,489.6v4M191.4,489.6v2M200.0,489.6v2M208.6,489.6v2M217.2,489.6v2M225.8,489.6v4" stroke="#333" stroke-width="1" fill="none"/>
<line x1="11" y1="489.6" x2="231" y2="489.6" stroke="#333" stroke-width="1"/>
<text x="11.5" y="500.8" font-family="Liberation Mono" font-size="8.8" font-weight="normal" fill="#111" text-anchor="middle" stroke="#000" stroke-width="0.15">0</text>
<text x="54.5" y="500.8" font-family="Liberation Mono" font-size="8.8" font-weight="normal" fill="#111" text-anchor="middle" stroke="#000" stroke-width="0.15">200</text>
<text x="97.4" y="500.8" font-family="Liberation Mono" font-size="8.8" font-weight="normal" fill="#111" text-anchor="middle" stroke="#000" stroke-width="0.15">400</text>
<text x="140.4" y="500.8" font-family="Liberation Mono" font-size="8.8" font-weight="normal" fill="#111" text-anchor="middle" stroke="#000" stroke-width="0.15">600</text>
<text x="183.3" y="500.8" font-family="Liberation Mono" font-size="8.8" font-weight="normal" fill="#111" text-anchor="middle" stroke="#000" stroke-width="0.15">800</text>
<text x="226.3" y="500.8" font-family="Liberation Mono" font-size="8.8" font-weight="normal" fill="#111" text-anchor="middle" stroke="#000" stroke-width="0.15">1000</text>
<text transform="translate(7.4,489.6) rotate(-90)" x="0" y="0" font-family="Liberation Mono" font-size="8.8" font-weight="normal" fill="#111" text-anchor="middle" stroke="#000" stroke-width="0.15">0</text>
<text transform="translate(7.4,445.6) rotate(-90)" x="0" y="0" font-family="Liberation Mono" font-size="8.8" font-weight="normal" fill="#111" text-anchor="middle" stroke="#000" stroke-width="0.15">20</text>
<text transform="translate(7.4,401.6) rotate(-90)" x="0" y="0" font-family="Liberation Mono" font-size="8.8" font-weight="normal" fill="#111" text-anchor="middle" stroke="#000" stroke-width="0.15">40</text>
<text transform="translate(7.4,357.6) rotate(-90)" x="0" y="0" font-family="Liberation Mono" font-size="8.8" font-weight="normal" fill="#111" text-anchor="middle" stroke="#000" stroke-width="0.15">60</text>
<text x="73.2" y="347.0" font-family="Liberation Mono" font-size="9.15" font-weight="normal" fill="#111" text-anchor="start" stroke="#000" stroke-width="0.1">Overlays Smoothed</text>
<line x1="294.5" y1="490.3" x2="294.5" y2="357" stroke="#333" stroke-width="1"/>
<path d="M294.5,490.3h-3M294.5,481.5h-2M294.5,472.7h-2M294.5,463.9h-2M294.5,455.1h-2M294.5,446.3h-3M294.5,437.5h-2M294.5,428.7h-2M294.5,419.9h-2M294.5,411.1h-2M294.5,402.3h-3M294.5,393.5h-2M294.5,384.7h-2M294.5,375.9h-2M294.5,367.1h-2M294.5,358.3h-3M294.5,490.3v4M303.1,490.3v2M311.7,490.3v2M320.3,490.3v2M328.9,490.3v2M337.5,490.3v4M346.1,490.3v2M354.6,490.3v2M363.2,490.3v2M371.8,490.3v2M380.4,490.3v4M389.0,490.3v2M397.6,490.3v2M406.2,490.3v2M414.8,490.3v2M423.4,490.3v4M432.0,490.3v2M440.6,490.3v2M449.2,490.3v2M457.7,490.3v2M466.3,490.3v4M474.9,490.3v2M483.5,490.3v2M492.1,490.3v2M500.7,490.3v2M509.3,490.3v4" stroke="#333" stroke-width="1" fill="none"/>
<line x1="294.5" y1="490.3" x2="514.5" y2="490.3" stroke="#333" stroke-width="1"/>
<text x="295.0" y="501.5" font-family="Liberation Mono" font-size="8.8" font-weight="normal" fill="#111" text-anchor="middle" stroke="#000" stroke-width="0.15">0</text>
<text x="338.0" y="501.5" font-family="Liberation Mono" font-size="8.8" font-weight="normal" fill="#111" text-anchor="middle" stroke="#000" stroke-width="0.15">200</text>
<text x="380.9" y="501.5" font-family="Liberation Mono" font-size="8.8" font-weight="normal" fill="#111" text-anchor="middle" stroke="#000" stroke-width="0.15">400</text>
<text x="423.9" y="501.5" font-family="Liberation Mono" font-size="8.8" font-weight="normal" fill="#111" text-anchor="middle" stroke="#000" stroke-width="0.15">600</text>
<text x="466.8" y="501.5" font-family="Liberation Mono" font-size="8.8" font-weight="normal" fill="#111" text-anchor="middle" stroke="#000" stroke-width="0.15">800</text>
<text x="509.8" y="501.5" font-family="Liberation Mono" font-size="8.8" font-weight="normal" fill="#111" text-anchor="middle" stroke="#000" stroke-width="0.15">1000</text>
<text transform="translate(290.9,490.3) rotate(-90)" x="0" y="0" font-family="Liberation Mono" font-size="8.8" font-weight="normal" fill="#111" text-anchor="middle" stroke="#000" stroke-width="0.15">0</text>
<text transform="translate(290.9,446.3) rotate(-90)" x="0" y="0" font-family="Liberation Mono" font-size="8.8" font-weight="normal" fill="#111" text-anchor="middle" stroke="#000" stroke-width="0.15">20</text>
<text transform="translate(290.9,402.3) rotate(-90)" x="0" y="0" font-family="Liberation Mono" font-size="8.8" font-weight="normal" fill="#111" text-anchor="middle" stroke="#000" stroke-width="0.15">40</text>
<text transform="translate(290.9,358.3) rotate(-90)" x="0" y="0" font-family="Liberation Mono" font-size="8.8" font-weight="normal" fill="#111" text-anchor="middle" stroke="#000" stroke-width="0.15">60</text>
<text x="356.8" y="347.6" font-family="Liberation Mono" font-size="9.15" font-weight="normal" fill="#111" text-anchor="start" stroke="#000" stroke-width="0.1">Overlays Smoothed</text>
<path d="M294.0,153.3L294.4,153.3L294.9,153.3L295.3,153.3L295.7,153.3L296.1,153.3L296.6,153.3L297.0,153.3L297.4,153.3L297.9,153.3L298.3,153.3L298.7,153.3L299.2,153.2L299.6,153.2L300.0,153.2L300.4,153.2L300.9,153.2L301.3,153.2L301.7,153.2L302.2,153.2L302.6,153.1L303.0,153.1L303.5,153.1L303.9,153.1L304.3,153.1L304.7,153.0L305.2,153.0L305.6,153.0L306.0,153.0L306.5,153.0L306.9,153.0L307.3,152.9L307.7,152.9L308.2,152.9L308.6,152.9L309.0,152.8L309.5,152.8L309.9,152.7L310.3,152.8L310.8,152.7L311.2,152.8L311.6,152.7L312.0,152.7L312.5,152.7L312.9,152.6L313.3,152.6L313.8,152.6L314.2,152.5L314.6,152.5L315.1,152.5L315.5,152.5L315.9,152.1L316.3,153.3L316.8,153.0L317.2,152.6L317.6,151.2L318.1,149.6L318.5,153.1L318.9,150.3L319.3,151.6L319.8,152.6L320.2,153.1L320.6,151.4L321.1,150.7L321.5,151.9L321.9,153.3L322.4,152.6L322.8,150.9L323.2,149.1L323.6,150.0L324.1,152.8L324.5,153.3L324.9,152.9L325.4,151.7L325.8,153.3L326.2,150.4L326.6,150.1L327.1,150.4L327.5,146.8L327.9,146.8L328.4,149.3L328.8,148.0L329.2,148.5L329.7,150.7L330.1,149.5L330.5,147.7L330.9,145.4L331.4,145.9L331.8,146.9L332.2,146.3L332.7,144.6L333.1,145.4L333.5,145.4L334.0,145.1L334.4,143.8L334.8,145.0L335.2,140.7L335.7,142.8L336.1,141.6L336.5,139.9L337.0,139.0L337.4,137.5L337.8,134.4L338.2,133.6L338.7,134.1L339.1,134.0L339.5,133.6L340.0,134.1L340.4,126.2L340.8,128.6L341.3,129.2L341.7,131.0L342.1,131.0L342.5,131.0L343.0,131.1L343.4,119.1L343.8,115.8L344.3,120.9L344.7,119.6L345.1,115.3L345.6,113.8L346.0,116.6L346.4,133.9L346.8,124.0L347.3,100.4L347.7,95.9L348.1,95.0L348.6,90.6L349.0,88.5L349.4,88.6L349.8,86.4L350.3,86.3L350.7,87.8L351.1,87.2L351.6,83.0L352.0,114.2L352.4,94.0L352.9,81.4L353.3,77.3L353.7,76.9L354.1,72.7L354.6,74.6L355.0,82.0L355.4,71.2L355.9,74.9L356.3,76.9L356.7,78.2L357.2,78.7L357.6,78.9L358.0,81.3L358.4,77.0L358.9,63.6L359.3,66.5L359.7,74.0L360.2,84.2L360.6,72.8L361.0,64.0L361.4,61.9L361.9,67.8L362.3,73.0L362.7,65.4L363.2,69.7L363.6,52.5L364.0,79.0L364.5,73.8L364.9,60.7L365.3,53.6L365.7,62.9L366.2,61.0L366.6,60.1L367.0,60.2L367.5,68.9L367.9,76.8L368.3,80.9L368.8,61.8L369.2,59.0L369.6,70.3L370.0,72.2L370.5,48.1L370.9,99.9L371.3,79.2L371.8,62.9L372.2,64.7L372.6,74.0L373.0,68.8L373.5,65.8L373.9,67.6L374.3,65.2L374.8,73.0L375.2,65.1L375.6,66.4L376.1,77.3L376.5,75.9L376.9,76.3L377.3,82.7L377.8,77.6L378.2,84.3L378.6,121.2L379.1,76.1L379.5,75.0L379.9,82.6L380.3,86.0L380.8,91.4L381.2,88.8L381.6,89.9L382.1,85.0L382.5,105.1L382.9,96.2L383.4,116.6L383.8,101.2L384.2,108.4L384.6,109.4L385.1,112.1L385.5,110.6L385.9,105.5L386.4,106.9L386.8,111.7L387.2,116.7L387.7,112.3L388.1,117.3L388.5,122.0L388.9,119.2L389.4,121.7L389.8,114.5L390.2,120.3L390.7,122.3L391.1,121.3L391.5,117.0L391.9,123.4L392.4,129.2L392.8,125.2L393.2,121.5L393.7,130.5L394.1,127.7L394.5,126.6L395.0,128.6L395.4,127.7L395.8,127.7L396.2,131.3L396.7,132.2L397.1,132.4L397.5,135.4L398.0,137.3L398.4,135.6L398.8,134.3L399.3,135.5L399.7,135.0L400.1,134.8L400.5,137.4L401.0,134.5L401.4,138.2L401.8,141.3L402.3,138.2L402.7,138.2L403.1,136.1L403.5,137.1L404.0,139.1L404.4,138.7L404.8,140.1L405.3,141.0L405.7,142.4L406.1,137.4L406.6,140.4L407.0,144.9L407.4,143.0L407.8,141.0L408.3,142.9L408.7,145.8L409.1,142.9L409.6,141.4L410.0,145.1L410.4,145.8L410.9,145.1L411.3,141.1L411.7,143.5L412.1,143.8L412.6,143.8L413.0,145.3L413.4,145.7L413.9,144.6L414.3,146.7L414.7,148.9L415.1,149.4L415.6,150.6L416.0,149.1L416.4,146.6L416.9,145.3L417.3,147.3L417.7,149.8L418.2,148.7L418.6,147.3L419.0,149.6L419.4,147.0L419.9,149.3L420.3,151.2L420.7,151.6L421.2,153.2L421.6,147.2L422.0,148.7L422.5,149.3L422.9,148.4L423.3,150.1L423.7,150.2L424.2,147.6L424.6,148.9L425.0,149.5L425.5,149.1L425.9,148.0L426.3,150.2L426.7,153.2L427.2,151.9L427.6,153.0L428.0,152.3L428.5,152.0L428.9,151.6L429.3,152.7L429.8,152.0L430.2,151.5L430.6,152.2L431.0,152.0L431.5,152.9L431.9,150.6L432.3,150.9L432.8,152.3L433.2,153.3L433.6,152.0L434.0,152.4L434.5,152.6L434.9,152.7L435.3,152.6L435.8,152.7L436.2,152.7L436.6,152.8L437.1,152.8L437.5,152.8L437.9,152.9L438.3,152.9L438.8,153.0L439.2,153.0L439.6,153.0L440.1,153.0L440.5,153.0L440.9,153.0L441.4,153.1L441.8,153.1L442.2,153.1L442.6,153.1L443.1,153.1L443.5,153.1L443.9,153.1L444.4,153.1L444.8,153.2L445.2,153.2L445.6,153.2L446.1,153.2L446.5,153.2L446.9,153.2L447.4,153.2L447.8,153.2L448.2,153.2L448.7,153.2L449.1,153.2L449.5,153.2L449.9,153.2L450.4,153.2L450.8,153.2L451.2,153.2L451.7,153.2L452.1,153.2L452.5,153.2L453.0,153.2L453.4,153.2L453.8,153.2L454.2,153.2L454.7,153.2L455.1,153.2L455.5,153.2L456.0,153.2L456.4,153.2L456.8,153.2L457.2,153.2L457.7,153.2L458.1,153.2L458.5,153.2L459.0,153.2L459.4,153.2L459.8,153.2L460.3,153.2L460.7,153.2L461.1,153.2L461.5,153.2L462.0,153.2L462.4,153.2L462.8,153.2L463.3,153.2L463.7,153.2L464.1,153.2L464.6,153.2L465.0,153.2L465.4,153.2L465.8,153.2L466.3,153.2L466.7,153.2L467.1,153.3L467.6,153.3L468.0,153.3L468.4,153.2L468.8,153.3L469.3,153.3L469.7,153.3L470.1,153.3L470.6,153.3L471.0,153.3L471.4,153.3L471.9,153.3L472.3,153.3L472.7,153.3L473.1,153.3L473.6,153.3L474.0,153.3L474.4,153.3L474.9,153.3L475.3,153.3L475.7,153.3L476.2,153.3L476.6,153.3L477.0,153.3L477.4,153.3L477.9,153.3L478.3,153.3L478.7,153.3L479.2,153.3L479.6,153.3L480.0,153.3L480.4,153.3L480.9,153.3L481.3,153.3L481.7,153.3L482.2,153.3L482.6,153.3L483.0,153.3L483.5,153.3L483.9,153.3L484.3,153.3L484.7,153.3L485.2,153.3L485.6,153.3L486.0,153.3L486.5,153.3L486.9,153.3L487.3,153.3L487.7,153.3L488.2,153.3L488.6,153.3L489.0,153.3L489.5,153.3L489.9,153.3L490.3,153.3L490.8,153.3L491.2,153.3L491.6,153.3L492.0,153.3L492.5,153.3L492.9,153.3L493.3,153.3L493.8,153.3L494.2,153.3L494.6,153.3L495.1,153.3L495.5,153.3L495.9,153.3L496.3,153.3L496.8,153.3L497.2,153.3L497.6,153.3L498.1,153.3L498.5,153.3L498.9,153.3L499.3,153.3L499.8,153.3L500.2,153.3L500.6,153.3L501.1,153.3L501.5,153.3L501.9,153.3L502.4,153.3L502.8,153.3L503.2,153.3L503.6,153.3L504.1,153.3L504.5,153.3L504.9,153.3L505.4,153.3L505.8,153.3L506.2,153.3L506.7,153.3L507.1,153.3L507.5,153.3L507.9,153.3L508.4,153.3L508.8,153.3L509.2,153.3L509.7,153.3L510.1,153.3L510.5,153.3L510.9,153.3L511.4,153.3L511.8,153.3L512.2,153.3L512.7,153.3L513.1,153.3L513.5,153.3" stroke="#111" stroke-width="1.2" fill="none" stroke-linejoin="round"/>
<path d="M295.0,153.3L295.4,153.3L295.9,153.3L296.3,153.3L296.7,153.3L297.1,153.3L297.6,153.3L298.0,153.3L298.4,153.3L298.9,153.3L299.3,153.3L299.7,153.3L300.2,153.2L300.6,153.2L301.0,153.2L301.4,153.2L301.9,153.2L302.3,153.2L302.7,153.2L303.2,153.1L303.6,153.1L304.0,153.1L304.5,153.1L304.9,153.1L305.3,153.1L305.7,153.1L306.2,153.0L306.6,153.0L307.0,153.0L307.5,152.9L307.9,152.9L308.3,152.9L308.7,153.0L309.2,152.9L309.6,152.9L310.0,152.9L310.5,152.8L310.9,152.8L311.3,152.8L311.8,152.8L312.2,152.7L312.6,152.7L313.0,152.7L313.5,152.7L313.9,152.6L314.3,152.6L314.8,152.6L315.2,152.6L315.6,152.5L316.1,152.6L316.5,152.6L316.9,153.3L317.3,153.3L317.8,151.8L318.2,151.8L318.6,150.6L319.1,151.1L319.5,152.7L319.9,150.0L320.3,151.8L320.8,151.5L321.2,153.3L321.6,152.4L322.1,149.7L322.5,152.9L322.9,153.3L323.4,151.1L323.8,153.1L324.2,151.5L324.6,151.1L325.1,151.3L325.5,151.9L325.9,153.3L326.4,153.1L326.8,152.3L327.2,149.5L327.6,149.6L328.1,150.5L328.5,150.8L328.9,150.8L329.4,151.3L329.8,151.4L330.2,148.9L330.7,150.4L331.1,147.4L331.5,145.2L331.9,144.4L332.4,147.1L332.8,149.6L333.2,148.7L333.7,147.4L334.1,146.3L334.5,142.6L335.0,143.3L335.4,140.3L335.8,140.2L336.2,139.1L336.7,140.3L337.1,139.8L337.5,139.7L338.0,143.4L338.4,138.0L338.8,137.4L339.2,135.0L339.7,136.2L340.1,134.5L340.5,133.4L341.0,129.5L341.4,129.0L341.8,129.7L342.3,125.1L342.7,125.6L343.1,129.0L343.5,124.5L344.0,120.6L344.4,119.4L344.8,117.7L345.3,115.7L345.7,118.2L346.1,118.3L346.6,119.4L347.0,117.2L347.4,115.4L347.8,103.4L348.3,105.8L348.7,109.4L349.1,96.2L349.6,87.2L350.0,83.4L350.4,94.5L350.8,93.5L351.3,81.3L351.7,85.1L352.1,82.5L352.6,75.3L353.0,88.1L353.4,90.6L353.9,82.5L354.3,78.4L354.7,82.8L355.1,68.2L355.6,69.1L356.0,77.6L356.4,79.0L356.9,69.2L357.3,73.6L357.7,79.5L358.2,76.5L358.6,65.3L359.0,90.8L359.4,76.9L359.9,75.7L360.3,63.8L360.7,69.9L361.2,59.6L361.6,58.2L362.0,75.9L362.4,83.1L362.9,81.7L363.3,60.5L363.7,65.4L364.2,65.4L364.6,66.1L365.0,76.1L365.5,66.2L365.9,60.7L366.3,62.7L366.7,69.8L367.2,76.6L367.6,76.8L368.0,74.9L368.5,68.6L368.9,55.5L369.3,70.3L369.8,69.3L370.2,67.6L370.6,107.1L371.0,66.6L371.5,58.0L371.9,59.2L372.3,71.4L372.8,70.3L373.2,87.3L373.6,70.7L374.0,64.1L374.5,62.5L374.9,61.4L375.3,62.6L375.8,69.1L376.2,78.4L376.6,81.3L377.1,81.0L377.5,69.1L377.9,75.9L378.3,82.9L378.8,87.7L379.2,79.7L379.6,75.0L380.1,79.5L380.5,77.2L380.9,80.2L381.3,71.7L381.8,77.6L382.2,94.4L382.6,97.4L383.1,97.3L383.5,97.0L383.9,100.0L384.4,93.6L384.8,99.8L385.2,100.2L385.6,105.5L386.1,110.3L386.5,111.4L386.9,108.0L387.4,108.7L387.8,111.1L388.2,109.6L388.7,115.4L389.1,116.1L389.5,115.8L389.9,117.8L390.4,121.3L390.8,129.2L391.2,128.7L391.7,128.8L392.1,121.0L392.5,121.9L392.9,127.4L393.4,122.3L393.8,124.3L394.2,127.6L394.7,129.9L395.1,130.1L395.5,126.8L396.0,129.3L396.4,131.7L396.8,128.9L397.2,127.5L397.7,128.4L398.1,133.8L398.5,131.8L399.0,130.7L399.4,136.6L399.8,134.4L400.3,131.6L400.7,136.7L401.1,136.2L401.5,133.8L402.0,137.1L402.4,136.3L402.8,134.9L403.3,136.8L403.7,136.8L404.1,134.8L404.5,138.2L405.0,140.2L405.4,137.3L405.8,138.1L406.3,142.5L406.7,138.9L407.1,137.2L407.6,138.7L408.0,141.4L408.4,141.6L408.8,141.4L409.3,142.1L409.7,143.9L410.1,144.5L410.6,144.8L411.0,144.7L411.4,147.9L411.9,140.5L412.3,137.1L412.7,141.5L413.1,142.4L413.6,145.1L414.0,144.1L414.4,143.9L414.9,147.4L415.3,143.4L415.7,145.5L416.1,148.5L416.6,147.4L417.0,148.2L417.4,147.3L417.9,149.4L418.3,147.6L418.7,148.5L419.2,149.5L419.6,148.3L420.0,149.8L420.4,150.2L420.9,150.8L421.3,152.0L421.7,151.1L422.2,150.1L422.6,149.6L423.0,148.1L423.5,152.3L423.9,150.0L424.3,149.7L424.7,148.6L425.2,149.8L425.6,151.0L426.0,151.0L426.5,151.1L426.9,149.4L427.3,150.4L427.7,150.2L428.2,150.6L428.6,152.0L429.0,153.3L429.5,152.6L429.9,153.3L430.3,153.3L430.8,153.3L431.2,150.4L431.6,151.5L432.0,152.0L432.5,152.3L432.9,148.4L433.3,149.0L433.8,152.1L434.2,152.5L434.6,153.3L435.0,152.5L435.5,152.5L435.9,152.6L436.3,152.7L436.8,152.6L437.2,152.7L437.6,152.8L438.1,152.9L438.5,152.9L438.9,152.9L439.3,152.9L439.8,153.0L440.2,153.0L440.6,153.0L441.1,153.1L441.5,153.0L441.9,153.1L442.4,153.1L442.8,153.1L443.2,153.1L443.6,153.1L444.1,153.1L444.5,153.1L444.9,153.2L445.4,153.2L445.8,153.2L446.2,153.2L446.6,153.2L447.1,153.2L447.5,153.2L447.9,153.2L448.4,153.2L448.8,153.2L449.2,153.2L449.7,153.2L450.1,153.2L450.5,153.2L450.9,153.2L451.4,153.2L451.8,153.2L452.2,153.2L452.7,153.2L453.1,153.2L453.5,153.2L454.0,153.2L454.4,153.2L454.8,153.2L455.2,153.2L455.7,153.2L456.1,153.2L456.5,153.2L457.0,153.2L457.4,153.2L457.8,153.2L458.2,153.2L458.7,153.2L459.1,153.2L459.5,153.2L460.0,153.2L460.4,153.2L460.8,153.2L461.3,153.2L461.7,153.2L462.1,153.2L462.5,153.2L463.0,153.2L463.4,153.2L463.8,153.2L464.3,153.2L464.7,153.2L465.1,153.2L465.6,153.2L466.0,153.2L466.4,153.2L466.8,153.2L467.3,153.2L467.7,153.2L468.1,153.2L468.6,153.2L469.0,153.3L469.4,153.2L469.8,153.3L470.3,153.3L470.7,153.3L471.1,153.3L471.6,153.3L472.0,153.3L472.4,153.3L472.9,153.3L473.3,153.3L473.7,153.3L474.1,153.3L474.6,153.3L475.0,153.3L475.4,153.3L475.9,153.3L476.3,153.3L476.7,153.3L477.2,153.3L477.6,153.3L478.0,153.3L478.4,153.3L478.9,153.3L479.3,153.3L479.7,153.3L480.2,153.3L480.6,153.3L481.0,153.3L481.4,153.3L481.9,153.3L482.3,153.3L482.7,153.3L483.2,153.3L483.6,153.3L484.0,153.3L484.5,153.3L484.9,153.3L485.3,153.3L485.7,153.3L486.2,153.3L486.6,153.3L487.0,153.3L487.5,153.3L487.9,153.3L488.3,153.3L488.7,153.3L489.2,153.3L489.6,153.3L490.0,153.3L490.5,153.3L490.9,153.3L491.3,153.3L491.8,153.3L492.2,153.3L492.6,153.3L493.0,153.3L493.5,153.3L493.9,153.3L494.3,153.3L494.8,153.3L495.2,153.3L495.6,153.3L496.1,153.3L496.5,153.3L496.9,153.3L497.3,153.3L497.8,153.3L498.2,153.3L498.6,153.3L499.1,153.3L499.5,153.3L499.9,153.3L500.3,153.3L500.8,153.3L501.2,153.3L501.6,153.3L502.1,153.3L502.5,153.3L502.9,153.3L503.4,153.3L503.8,153.3L504.2,153.3L504.6,153.3L505.1,153.3L505.5,153.3L505.9,153.3L506.4,153.3L506.8,153.3L507.2,153.3L507.7,153.3L508.1,153.3L508.5,153.3L508.9,153.3L509.4,153.3L509.8,153.3L510.2,153.3L510.7,153.3L511.1,153.3L511.5,153.3L511.9,153.3L512.4,153.3L512.8,153.3L513.2,153.3L513.7,153.3L514.1,153.3L514.5,153.3" stroke="#cc1040" stroke-width="1.2" fill="none" stroke-linejoin="round"/>
<path d="M296.0,153.3L296.4,153.3L296.9,153.3L297.3,153.3L297.7,153.3L298.1,153.3L298.6,153.3L299.0,153.3L299.4,153.3L299.9,153.3L300.3,153.3L300.7,153.2L301.2,153.2L301.6,153.2L302.0,153.2L302.4,153.2L302.9,153.2L303.3,153.2L303.7,153.2L304.2,153.2L304.6,153.2L305.0,153.1L305.5,153.1L305.9,153.1L306.3,153.1L306.7,153.0L307.2,153.0L307.6,153.0L308.0,153.0L308.5,153.0L308.9,153.0L309.3,153.0L309.7,152.9L310.2,152.9L310.6,153.0L311.0,152.9L311.5,152.8L311.9,152.8L312.3,152.8L312.8,152.8L313.2,152.8L313.6,152.8L314.0,152.7L314.5,152.7L314.9,152.7L315.3,152.6L315.8,152.5L316.2,152.5L316.6,152.6L317.1,152.5L317.5,152.4L317.9,153.3L318.3,153.3L318.8,151.6L319.2,152.9L319.6,151.6L320.1,151.7L320.5,151.8L320.9,153.3L321.3,152.0L321.8,153.2L322.2,149.8L322.6,150.6L323.1,152.1L323.5,153.3L323.9,152.8L324.4,149.4L324.8,152.2L325.2,151.3L325.6,152.0L326.1,150.7L326.5,149.9L326.9,149.9L327.4,149.4L327.8,151.4L328.2,151.3L328.6,150.7L329.1,151.1L329.5,146.8L329.9,147.4L330.4,150.7L330.8,153.3L331.2,149.9L331.7,150.0L332.1,149.0L332.5,146.8L332.9,146.8L333.4,147.7L333.8,143.5L334.2,139.9L334.7,141.1L335.1,144.2L335.5,147.3L336.0,141.2L336.4,141.7L336.8,138.9L337.2,142.8L337.7,141.0L338.1,148.1L338.5,144.0L339.0,139.1L339.4,141.2L339.8,138.5L340.2,137.8L340.7,135.5L341.1,137.5L341.5,133.3L342.0,130.9L342.4,129.0L342.8,130.5L343.3,127.4L343.7,121.2L344.1,122.8L344.5,128.9L345.0,124.9L345.4,117.0L345.8,120.0L346.3,116.5L346.7,117.5L347.1,120.0L347.6,116.2L348.0,111.4L348.4,108.4L348.8,105.1L349.3,105.2L349.7,103.0L350.1,102.1L350.6,109.7L351.0,102.7L351.4,90.9L351.8,95.2L352.3,96.2L352.7,77.5L353.1,87.1L353.6,88.7L354.0,84.7L354.4,88.5L354.9,81.3L355.3,88.9L355.7,82.1L356.1,82.7L356.6,82.2L357.0,81.2L357.4,83.0L357.9,84.4L358.3,70.0L358.7,70.5L359.2,62.2L359.6,67.7L360.0,79.3L360.4,80.7L360.9,73.3L361.3,75.9L361.7,81.3L362.2,74.3L362.6,72.2L363.0,62.8L363.4,96.7L363.9,75.8L364.3,79.1L364.7,72.9L365.2,62.3L365.6,77.6L366.0,70.9L366.5,67.5L366.9,76.6L367.3,86.0L367.7,69.9L368.2,65.5L368.6,67.5L369.0,74.2L369.5,68.2L369.9,56.2L370.3,55.7L370.8,61.2L371.2,73.6L371.6,61.7L372.0,58.7L372.5,58.2L372.9,65.5L373.3,58.4L373.8,61.1L374.2,53.8L374.6,57.9L375.0,77.0L375.5,70.1L375.9,65.5L376.3,82.5L376.8,82.4L377.2,71.1L377.6,78.0L378.1,62.6L378.5,75.6L378.9,75.9L379.3,67.5L379.8,78.3L380.2,85.3L380.6,86.6L381.1,74.1L381.5,85.7L381.9,79.2L382.3,80.4L382.8,78.9L383.2,90.4L383.6,100.4L384.1,94.7L384.5,98.2L384.9,93.0L385.4,104.1L385.8,102.3L386.2,108.5L386.6,105.7L387.1,101.0L387.5,106.4L387.9,99.4L388.4,103.1L388.8,107.4L389.2,115.0L389.7,113.4L390.1,111.1L390.5,112.8L390.9,113.3L391.4,120.5L391.8,121.8L392.2,120.2L392.7,125.5L393.1,115.5L393.5,122.0L393.9,125.0L394.4,127.2L394.8,129.9L395.2,128.9L395.7,130.0L396.1,131.8L396.5,126.5L397.0,119.0L397.4,125.9L397.8,129.8L398.2,128.5L398.7,131.4L399.1,135.9L399.5,132.6L400.0,129.7L400.4,129.5L400.8,135.2L401.3,140.4L401.7,136.9L402.1,137.9L402.5,135.8L403.0,135.7L403.4,132.2L403.8,136.1L404.3,131.3L404.7,135.6L405.1,139.5L405.5,137.3L406.0,136.6L406.4,141.3L406.8,141.0L407.3,139.9L407.7,143.5L408.1,143.7L408.6,140.9L409.0,143.3L409.4,139.9L409.8,141.8L410.3,142.7L410.7,143.0L411.1,143.4L411.6,143.7L412.0,144.1L412.4,143.7L412.9,145.0L413.3,140.8L413.7,145.9L414.1,148.0L414.6,148.4L415.0,144.2L415.4,142.3L415.9,145.5L416.3,145.2L416.7,146.4L417.1,144.8L417.6,146.6L418.0,146.6L418.4,145.8L418.9,148.1L419.3,150.6L419.7,147.1L420.2,149.0L420.6,149.1L421.0,144.3L421.4,144.9L421.9,149.3L422.3,150.2L422.7,148.5L423.2,149.0L423.6,146.2L424.0,148.1L424.5,149.9L424.9,150.2L425.3,148.5L425.7,149.7L426.2,150.9L426.6,151.5L427.0,151.8L427.5,153.0L427.9,152.1L428.3,150.8L428.7,147.5L429.2,148.7L429.6,151.6L430.0,152.0L430.5,151.9L430.9,151.1L431.3,151.2L431.8,151.7L432.2,151.1L432.6,150.3L433.0,152.0L433.5,153.3L433.9,150.5L434.3,152.2L434.8,152.0L435.2,150.8L435.6,151.4L436.0,152.5L436.5,152.6L436.9,152.6L437.3,152.7L437.8,152.7L438.2,152.8L438.6,152.7L439.1,152.8L439.5,152.9L439.9,152.9L440.3,152.9L440.8,152.9L441.2,153.0L441.6,153.0L442.1,153.0L442.5,153.0L442.9,153.1L443.4,153.1L443.8,153.1L444.2,153.1L444.6,153.1L445.1,153.1L445.5,153.2L445.9,153.2L446.4,153.2L446.8,153.2L447.2,153.2L447.6,153.2L448.1,153.2L448.5,153.2L448.9,153.2L449.4,153.2L449.8,153.2L450.2,153.2L450.7,153.2L451.1,153.2L451.5,153.2L451.9,153.2L452.4,153.2L452.8,153.2L453.2,153.2L453.7,153.2L454.1,153.2L454.5,153.2L455.0,153.2L455.4,153.2L455.8,153.2L456.2,153.2L456.7,153.2L457.1,153.2L457.5,153.2L458.0,153.2L458.4,153.2L458.8,153.2L459.2,153.2L459.7,153.2L460.1,153.2L460.5,153.2L461.0,153.2L461.4,153.2L461.8,153.2L462.3,153.2L462.7,153.2L463.1,153.2L463.5,153.2L464.0,153.2L464.4,153.2L464.8,153.2L465.3,153.2L465.7,153.2L466.1,153.2L466.6,153.2L467.0,153.2L467.4,153.2L467.8,153.2L468.3,153.2L468.7,153.2L469.1,153.2L469.6,153.2L470.0,153.2L470.4,153.3L470.8,153.3L471.3,153.2L471.7,153.3L472.1,153.3L472.6,153.3L473.0,153.3L473.4,153.3L473.9,153.3L474.3,153.3L474.7,153.3L475.1,153.3L475.6,153.3L476.0,153.3L476.4,153.3L476.9,153.3L477.3,153.3L477.7,153.3L478.2,153.3L478.6,153.3L479.0,153.3L479.4,153.3L479.9,153.3L480.3,153.3L480.7,153.3L481.2,153.3L481.6,153.3L482.0,153.3L482.4,153.3L482.9,153.3L483.3,153.3L483.7,153.3L484.2,153.3L484.6,153.3L485.0,153.3L485.5,153.3L485.9,153.3L486.3,153.3L486.7,153.3L487.2,153.3L487.6,153.3L488.0,153.3L488.5,153.3L488.9,153.3L489.3,153.3L489.7,153.3L490.2,153.3L490.6,153.3L491.0,153.3L491.5,153.3L491.9,153.3L492.3,153.3L492.8,153.3L493.2,153.3L493.6,153.3L494.0,153.3L494.5,153.3L494.9,153.3L495.3,153.3L495.8,153.3L496.2,153.3L496.6,153.3L497.1,153.3L497.5,153.3L497.9,153.3L498.3,153.3L498.8,153.3L499.2,153.3L499.6,153.3L500.1,153.3L500.5,153.3L500.9,153.3L501.3,153.3L501.8,153.3L502.2,153.3L502.6,153.3L503.1,153.3L503.5,153.3L503.9,153.3L504.4,153.3L504.8,153.3L505.2,153.3L505.6,153.3L506.1,153.3L506.5,153.3L506.9,153.3L507.4,153.3L507.8,153.3L508.2,153.3L508.7,153.3L509.1,153.3L509.5,153.3L509.9,153.3L510.4,153.3L510.8,153.3L511.2,153.3L511.7,153.3L512.1,153.3L512.5,153.3L512.9,153.3L513.4,153.3L513.8,153.3L514.2,153.3L514.7,153.3L515.1,153.3L515.5,153.3" stroke="#23903a" stroke-width="1.2" fill="none" stroke-linejoin="round"/>
<path d="M11.0,319.5L11.4,319.5L11.9,319.5L12.3,319.4L12.7,319.4L13.1,319.4L13.6,319.4L14.0,319.3L14.4,319.3L14.9,319.3L15.3,319.3L15.7,319.3L16.2,319.2L16.6,319.2L17.0,319.2L17.4,319.2L17.9,319.2L18.3,319.1L18.7,319.1L19.2,319.3L19.6,318.8L20.0,318.6L20.5,319.5L20.9,319.5L21.3,319.1L21.7,318.5L22.2,317.9L22.6,319.2L23.0,319.5L23.5,319.3L23.9,319.5L24.3,319.4L24.7,318.3L25.2,318.3L25.6,318.9L26.0,319.5L26.5,318.7L26.9,318.5L27.3,317.7L27.8,318.3L28.2,318.7L28.6,317.6L29.0,317.5L29.5,317.5L29.9,317.9L30.3,319.2L30.8,318.6L31.2,318.1L31.6,319.0L32.1,318.4L32.5,319.2L32.9,318.2L33.3,319.5L33.8,319.5L34.2,316.9L34.6,317.3L35.1,317.8L35.5,318.0L35.9,317.6L36.3,318.9L36.8,318.5L37.2,318.5L37.6,316.5L38.1,316.6L38.5,319.2L38.9,319.5L39.4,319.0L39.8,319.0L40.2,319.5L40.6,317.4L41.1,317.2L41.5,317.2L41.9,316.9L42.4,318.3L42.8,318.9L43.2,317.4L43.6,317.6L44.1,316.7L44.5,316.8L44.9,317.6L45.4,316.8L45.8,317.7L46.2,316.5L46.7,317.0L47.1,317.1L47.5,317.1L47.9,316.5L48.4,315.7L48.8,317.1L49.2,317.6L49.7,316.2L50.1,315.7L50.5,316.9L51.0,316.3L51.4,317.8L51.8,316.5L52.2,315.8L52.7,316.8L53.1,315.4L53.5,316.2L54.0,317.5L54.4,317.9L54.8,315.1L55.2,315.9L55.7,316.6L56.1,318.1L56.5,316.3L57.0,318.1L57.4,316.7L57.8,316.6L58.3,315.4L58.7,315.4L59.1,315.8L59.5,316.4L60.0,317.0L60.4,315.1L60.8,312.8L61.3,313.2L61.7,312.7L62.1,315.6L62.6,316.7L63.0,315.1L63.4,313.9L63.8,314.5L64.3,314.8L64.7,314.8L65.1,313.3L65.6,311.8L66.0,314.3L66.4,313.9L66.8,312.7L67.3,313.5L67.7,310.7L68.1,312.9L68.6,313.0L69.0,311.7L69.4,312.6L69.9,311.2L70.3,312.3L70.7,311.3L71.1,312.9L71.6,313.8L72.0,311.3L72.4,311.9L72.9,311.0L73.3,310.6L73.7,309.2L74.2,310.2L74.6,308.3L75.0,307.0L75.4,305.4L75.9,306.0L76.3,306.6L76.7,304.5L77.2,303.4L77.6,302.7L78.0,302.1L78.4,301.4L78.9,299.0L79.3,299.5L79.7,300.3L80.2,298.3L80.6,291.2L81.0,287.9L81.5,284.1L81.9,287.2L82.3,285.4L82.7,281.3L83.2,278.7L83.6,277.4L84.0,276.1L84.5,275.9L84.9,260.2L85.3,265.7L85.8,271.4L86.2,264.0L86.6,256.6L87.0,238.5L87.5,225.0L87.9,226.5L88.3,238.6L88.8,231.4L89.2,226.0L89.6,216.9L90.0,232.9L90.5,252.5L90.9,230.4L91.3,235.6L91.8,213.9L92.2,217.7L92.6,214.7L93.1,214.9L93.5,228.4L93.9,229.3L94.3,227.5L94.8,218.6L95.2,225.8L95.6,242.6L96.1,252.6L96.5,263.1L96.9,255.8L97.3,268.6L97.8,272.9L98.2,272.8L98.6,285.9L99.1,282.4L99.5,285.1L99.9,282.4L100.4,285.6L100.8,292.7L101.2,298.5L101.6,300.3L102.1,305.3L102.5,310.9L102.9,313.2L103.4,316.0L103.8,314.3L104.2,314.6L104.7,316.3L105.1,317.1L105.5,317.9L105.9,315.1L106.4,314.9L106.8,316.8L107.2,316.6L107.7,317.9L108.1,316.5L108.5,317.5L108.9,317.8L109.4,317.5L109.8,318.0L110.2,319.1L110.7,318.8L111.1,318.9L111.5,318.3L112.0,318.5L112.4,319.5L112.8,318.0L113.2,318.4L113.7,318.7L114.1,318.7L114.5,318.4L115.0,318.5L115.4,318.5L115.8,318.2L116.3,317.6L116.7,318.3L117.1,319.5L117.5,318.8L118.0,319.1L118.4,318.1L118.8,319.1L119.3,317.7L119.7,318.8L120.1,319.5L120.5,319.4L121.0,319.5L121.4,319.2L121.8,318.0L122.3,318.9L122.7,319.1L123.1,319.1L123.6,319.1L124.0,319.1L124.4,319.1L124.8,319.1L125.3,319.1L125.7,319.2L126.1,319.2L126.6,319.2L127.0,319.2L127.4,319.3L127.9,319.2L128.3,319.3L128.7,319.3L129.1,319.3L129.6,319.3L130.0,319.3L130.4,319.3L130.9,319.4L131.3,319.3L131.7,319.4L132.1,319.4L132.6,319.4L133.0,319.4L133.4,319.4L133.9,319.4L134.3,319.4L134.7,319.4L135.2,319.5L135.6,319.5L136.0,319.5L136.4,319.5L136.9,319.5L137.3,319.5L137.7,319.5L138.2,319.5L138.6,319.5L139.0,319.5L139.5,319.5L139.9,319.5L140.3,319.5L140.7,319.5L141.2,319.5L141.6,319.5L142.0,319.5L142.5,319.5L142.9,319.5L143.3,319.5L143.7,319.5L144.2,319.5L144.6,319.5L145.0,319.5L145.5,319.5L145.9,319.5L146.3,319.5L146.8,319.5L147.2,319.5L147.6,319.5L148.0,319.5L148.5,319.5L148.9,319.5L149.3,319.5L149.8,319.5L150.2,319.5L150.6,319.5L151.0,319.5L151.5,319.5L151.9,319.5L152.3,319.5L152.8,319.5L153.2,319.5L153.6,319.5L154.1,319.5L154.5,319.5L154.9,319.5L155.3,319.5L155.8,319.5L156.2,319.5L156.6,319.5L157.1,319.5L157.5,319.5L157.9,319.5L158.4,319.5L158.8,319.5L159.2,319.5L159.6,319.5L160.1,319.5L160.5,319.5L160.9,319.5L161.4,319.5L161.8,319.5L162.2,319.5L162.6,319.5L163.1,319.5L163.5,319.5L163.9,319.5L164.4,319.5L164.8,319.5L165.2,319.5L165.7,319.5L166.1,319.5L166.5,319.5L166.9,319.5L167.4,319.5L167.8,319.5L168.2,319.5L168.7,319.5L169.1,319.5L169.5,319.5L170.0,319.5L170.4,319.5L170.8,319.5L171.2,319.5L171.7,319.5L172.1,319.5L172.5,319.5L173.0,319.5L173.4,319.5L173.8,319.5L174.2,319.5L174.7,319.5L175.1,319.5L175.5,319.5L176.0,319.5L176.4,319.5L176.8,319.5L177.3,319.5L177.7,319.5L178.1,319.5L178.5,319.5L179.0,319.5L179.4,319.5L179.8,319.5L180.3,319.5L180.7,319.5L181.1,319.5L181.6,319.5L182.0,319.5L182.4,319.5L182.8,319.5L183.3,319.5L183.7,319.5L184.1,319.5L184.6,319.5L185.0,319.5L185.4,319.5L185.8,319.5L186.3,319.5L186.7,319.5L187.1,319.5L187.6,319.5L188.0,319.5L188.4,319.5L188.9,319.5L189.3,319.5L189.7,319.5L190.1,319.5L190.6,319.5L191.0,319.5L191.4,319.5L191.9,319.5L192.3,319.5L192.7,319.5L193.2,319.5L193.6,319.5L194.0,319.5L194.4,319.5L194.9,319.5L195.3,319.5L195.7,319.5L196.2,319.5L196.6,319.5L197.0,319.5L197.4,319.5L197.9,319.5L198.3,319.5L198.7,319.5L199.2,319.5L199.6,319.5L200.0,319.5L200.5,319.5L200.9,319.5L201.3,319.5L201.7,319.5L202.2,319.5L202.6,319.5L203.0,319.5L203.5,319.5L203.9,319.5L204.3,319.5L204.7,319.5L205.2,319.5L205.6,319.5L206.0,319.5L206.5,319.5L206.9,319.5L207.3,319.5L207.8,319.5L208.2,319.5L208.6,319.5L209.0,319.5L209.5,319.5L209.9,319.5L210.3,319.5L210.8,319.5L211.2,319.5L211.6,319.5L212.1,319.5L212.5,319.5L212.9,319.5L213.3,319.5L213.8,319.5L214.2,319.5L214.6,319.5L215.1,319.5L215.5,319.5L215.9,319.5L216.3,319.5L216.8,319.5L217.2,319.5L217.6,319.5L218.1,319.5L218.5,319.5L218.9,319.5L219.4,319.5L219.8,319.5L220.2,319.5L220.6,319.5L221.1,319.5L221.5,319.5L221.9,319.5L222.4,319.5L222.8,319.5L223.2,319.5L223.7,319.5L224.1,319.5L224.5,319.5L224.9,319.5L225.4,319.5L225.8,319.5L226.2,319.5L226.7,319.5L227.1,319.5L227.5,319.5L227.9,319.5L228.4,319.5L228.8,319.5L229.2,319.5L229.7,319.5L230.1,319.5L230.5,319.5" stroke="#111" stroke-width="1.4" fill="none" stroke-linejoin="round"/>
<path d="M11.0,319.5L11.4,319.5L11.9,319.4L12.3,319.3L12.7,319.3L13.1,319.2L13.6,319.2L14.0,319.1L14.4,319.2L14.9,319.1L15.3,319.5L15.7,319.0L16.2,319.4L16.6,318.1L17.0,319.4L17.4,318.3L17.9,317.8L18.3,319.0L18.7,318.9L19.2,319.1L19.6,318.1L20.0,318.2L20.5,316.5L20.9,316.3L21.3,316.1L21.7,317.2L22.2,317.6L22.6,319.2L23.0,319.2L23.5,319.5L23.9,318.7L24.3,318.6L24.7,319.2L25.2,319.0L25.6,317.8L26.0,316.8L26.5,316.8L26.9,317.6L27.3,318.0L27.8,318.4L28.2,317.6L28.6,319.2L29.0,318.5L29.5,319.2L29.9,318.3L30.3,317.5L30.8,317.4L31.2,317.5L31.6,317.9L32.1,317.5L32.5,318.4L32.9,317.9L33.3,317.8L33.8,316.9L34.2,316.7L34.6,316.6L35.1,317.1L35.5,317.9L35.9,318.4L36.3,319.5L36.8,319.5L37.2,318.6L37.6,318.5L38.1,318.4L38.5,318.8L38.9,319.0L39.4,318.5L39.8,318.3L40.2,317.5L40.6,317.0L41.1,317.2L41.5,316.5L41.9,317.7L42.4,317.7L42.8,316.6L43.2,317.1L43.6,317.5L44.1,318.2L44.5,317.3L44.9,317.3L45.4,318.4L45.8,318.7L46.2,318.5L46.7,317.1L47.1,316.3L47.5,316.6L47.9,317.6L48.4,317.8L48.8,317.0L49.2,318.1L49.7,318.6L50.1,318.4L50.5,317.1L51.0,316.2L51.4,317.4L51.8,317.5L52.2,317.7L52.7,318.6L53.1,317.3L53.5,316.7L54.0,316.7L54.4,316.9L54.8,317.1L55.2,316.7L55.7,315.8L56.1,316.5L56.5,316.9L57.0,317.2L57.4,317.6L57.8,315.9L58.3,315.4L58.7,316.1L59.1,315.4L59.5,314.7L60.0,315.3L60.4,317.0L60.8,316.4L61.3,315.0L61.7,316.0L62.1,314.9L62.6,314.4L63.0,315.3L63.4,316.0L63.8,315.3L64.3,315.5L64.7,316.1L65.1,316.9L65.6,315.6L66.0,314.6L66.4,315.4L66.8,315.3L67.3,314.5L67.7,314.1L68.1,313.5L68.6,313.4L69.0,315.0L69.4,314.9L69.9,311.8L70.3,311.7L70.7,314.7L71.1,314.0L71.6,314.7L72.0,313.1L72.4,312.5L72.9,310.9L73.3,312.9L73.7,312.4L74.2,311.9L74.6,312.0L75.0,313.4L75.4,313.0L75.9,313.0L76.3,313.3L76.7,310.5L77.2,309.0L77.6,308.8L78.0,309.7L78.4,308.0L78.9,308.0L79.3,306.8L79.7,306.7L80.2,306.4L80.6,303.3L81.0,303.5L81.5,303.1L81.9,300.1L82.3,299.8L82.7,300.9L83.2,303.7L83.6,300.2L84.0,297.3L84.5,295.7L84.9,294.0L85.3,289.7L85.8,287.3L86.2,294.0L86.6,295.6L87.0,282.0L87.5,280.1L87.9,276.0L88.3,278.7L88.8,267.2L89.2,266.2L89.6,260.1L90.0,258.2L90.5,250.0L90.9,242.7L91.3,246.7L91.8,248.0L92.2,246.7L92.6,237.2L93.1,229.4L93.5,231.6L93.9,230.2L94.3,219.6L94.8,224.7L95.2,231.0L95.6,234.0L96.1,232.8L96.5,216.0L96.9,229.5L97.3,237.2L97.8,227.5L98.2,229.0L98.6,228.5L99.1,234.0L99.5,231.2L99.9,235.5L100.4,230.2L100.8,234.8L101.2,235.9L101.6,240.1L102.1,251.2L102.5,262.8L102.9,276.4L103.4,283.0L103.8,281.6L104.2,286.4L104.7,287.9L105.1,290.2L105.5,296.0L105.9,293.8L106.4,297.0L106.8,301.7L107.2,304.5L107.7,308.3L108.1,310.0L108.5,308.9L108.9,312.4L109.4,312.9L109.8,313.4L110.2,310.8L110.7,312.9L111.1,311.8L111.5,313.2L112.0,312.9L112.4,312.1L112.8,312.9L113.2,313.3L113.7,314.5L114.1,315.4L114.5,314.9L115.0,313.8L115.4,315.4L115.8,314.8L116.3,314.7L116.7,315.1L117.1,315.5L117.5,316.8L118.0,315.8L118.4,316.5L118.8,315.9L119.3,315.2L119.7,315.3L120.1,316.6L120.5,317.0L121.0,318.0L121.4,317.0L121.8,316.1L122.3,317.0L122.7,316.0L123.1,315.3L123.6,317.0L124.0,317.7L124.4,316.0L124.8,315.7L125.3,316.9L125.7,317.6L126.1,319.1L126.6,319.4L127.0,318.4L127.4,319.0L127.9,318.9L128.3,317.5L128.7,317.1L129.1,317.3L129.6,319.1L130.0,318.6L130.4,318.7L130.9,319.4L131.3,317.3L131.7,316.7L132.1,317.2L132.6,317.8L133.0,316.8L133.4,317.2L133.9,317.7L134.3,319.3L134.7,318.7L135.2,319.4L135.6,318.1L136.0,319.2L136.4,319.5L136.9,319.1L137.3,318.9L137.7,319.5L138.2,319.5L138.6,319.5L139.0,319.5L139.5,319.5L139.9,319.5L140.3,318.7L140.7,319.1L141.2,319.1L141.6,319.1L142.0,319.1L142.5,319.1L142.9,319.2L143.3,319.2L143.7,319.2L144.2,319.2L144.6,319.2L145.0,319.2L145.5,319.2L145.9,319.2L146.3,319.2L146.8,319.2L147.2,319.2L147.6,319.2L148.0,319.2L148.5,319.2L148.9,319.3L149.3,319.3L149.8,319.3L150.2,319.3L150.6,319.3L151.0,319.3L151.5,319.3L151.9,319.3L152.3,319.3L152.8,319.3L153.2,319.3L153.6,319.3L154.1,319.3L154.5,319.3L154.9,319.3L155.3,319.3L155.8,319.3L156.2,319.3L156.6,319.3L157.1,319.3L157.5,319.3L157.9,319.3L158.4,319.3L158.8,319.3L159.2,319.3L159.6,319.3L160.1,319.3L160.5,319.3L160.9,319.4L161.4,319.3L161.8,319.3L162.2,319.3L162.6,319.3L163.1,319.3L163.5,319.4L163.9,319.3L164.4,319.3L164.8,319.4L165.2,319.4L165.7,319.4L166.1,319.4L166.5,319.4L166.9,319.4L167.4,319.4L167.8,319.4L168.2,319.4L168.7,319.4L169.1,319.4L169.5,319.4L170.0,319.4L170.4,319.4L170.8,319.4L171.2,319.4L171.7,319.4L172.1,319.4L172.5,319.4L173.0,319.4L173.4,319.4L173.8,319.4L174.2,319.4L174.7,319.4L175.1,319.4L175.5,319.4L176.0,319.4L176.4,319.4L176.8,319.4L177.3,319.4L177.7,319.4L178.1,319.4L178.5,319.4L179.0,319.4L179.4,319.4L179.8,319.4L180.3,319.4L180.7,319.4L181.1,319.4L181.6,319.4L182.0,319.4L182.4,319.4L182.8,319.4L183.3,319.4L183.7,319.4L184.1,319.4L184.6,319.4L185.0,319.4L185.4,319.4L185.8,319.4L186.3,319.4L186.7,319.4L187.1,319.4L187.6,319.4L188.0,319.4L188.4,319.4L188.9,319.4L189.3,319.4L189.7,319.5L190.1,319.5L190.6,319.5L191.0,319.5L191.4,319.5L191.9,319.5L192.3,319.5L192.7,319.5L193.2,319.5L193.6,319.5L194.0,319.5L194.4,319.5L194.9,319.5L195.3,319.5L195.7,319.5L196.2,319.5L196.6,319.5L197.0,319.5L197.4,319.5L197.9,319.5L198.3,319.5L198.7,319.5L199.2,319.5L199.6,319.5L200.0,319.5L200.5,319.5L200.9,319.5L201.3,319.5L201.7,319.5L202.2,319.5L202.6,319.5L203.0,319.5L203.5,319.5L203.9,319.5L204.3,319.5L204.7,319.5L205.2,319.5L205.6,319.5L206.0,319.5L206.5,319.5L206.9,319.5L207.3,319.5L207.8,319.5L208.2,319.5L208.6,319.5L209.0,319.5L209.5,319.5L209.9,319.5L210.3,319.5L210.8,319.5L211.2,319.5L211.6,319.5L212.1,319.5L212.5,319.5L212.9,319.5L213.3,319.5L213.8,319.5L214.2,319.5L214.6,319.5L215.1,319.5L215.5,319.5L215.9,319.5L216.3,319.5L216.8,319.5L217.2,319.5L217.6,319.5L218.1,319.5L218.5,319.5L218.9,319.5L219.4,319.5L219.8,319.5L220.2,319.5L220.6,319.5L221.1,319.5L221.5,319.5L221.9,319.5L222.4,319.5L222.8,319.5L223.2,319.5L223.7,319.5L224.1,319.5L224.5,319.5L224.9,319.5L225.4,319.5L225.8,319.5L226.2,319.5L226.7,319.5L227.1,319.5L227.5,319.5L227.9,319.5L228.4,319.5L228.8,319.5L229.2,319.5L229.7,319.5L230.1,319.5L230.5,319.5" stroke="#cc1040" stroke-width="1.5" fill="none" stroke-dasharray="3,2" stroke-linejoin="round"/>
<path d="M293.5,320.5L293.9,320.5L294.4,320.5L294.8,320.4L295.2,320.4L295.6,320.4L296.1,320.4L296.5,320.4L296.9,320.3L297.4,320.3L297.8,320.3L298.2,320.3L298.7,320.3L299.1,320.3L299.5,320.2L299.9,320.2L300.4,320.2L300.8,320.1L301.2,320.1L301.7,320.0L302.1,320.5L302.5,320.1L303.0,320.4L303.4,320.5L303.8,319.8L304.2,320.1L304.7,320.4L305.1,320.5L305.5,320.5L306.0,320.5L306.4,320.3L306.8,320.1L307.2,319.9L307.7,319.4L308.1,318.9L308.5,318.4L309.0,320.5L309.4,320.0L309.8,318.9L310.3,319.9L310.7,320.2L311.1,320.1L311.5,319.5L312.0,319.7L312.4,320.0L312.8,320.5L313.3,319.7L313.7,319.4L314.1,319.1L314.6,320.1L315.0,320.0L315.4,319.9L315.8,320.5L316.3,319.4L316.7,318.8L317.1,319.5L317.6,319.9L318.0,319.9L318.4,319.3L318.8,319.6L319.3,319.9L319.7,319.7L320.1,320.2L320.6,318.3L321.0,317.9L321.4,319.2L321.9,319.8L322.3,319.5L322.7,320.5L323.1,319.9L323.6,319.1L324.0,319.0L324.4,318.8L324.9,318.2L325.3,317.5L325.7,318.1L326.1,317.7L326.6,316.9L327.0,317.2L327.4,317.4L327.9,316.8L328.3,315.0L328.7,313.9L329.2,314.3L329.6,315.1L330.0,315.4L330.4,314.0L330.9,313.6L331.3,313.6L331.7,310.9L332.2,308.2L332.6,308.1L333.0,307.0L333.5,306.4L333.9,303.8L334.3,301.8L334.7,299.2L335.2,291.2L335.6,288.9L336.0,287.0L336.5,282.4L336.9,282.6L337.3,280.7L337.7,270.9L338.2,266.5L338.6,261.5L339.0,251.1L339.5,252.1L339.9,246.4L340.3,247.9L340.8,239.6L341.2,226.3L341.6,228.4L342.0,230.4L342.5,222.5L342.9,218.3L343.3,226.4L343.8,236.8L344.2,232.2L344.6,231.0L345.1,229.3L345.5,228.6L345.9,235.8L346.3,246.4L346.8,248.0L347.2,256.6L347.6,250.2L348.1,256.1L348.5,267.8L348.9,272.5L349.3,283.5L349.8,281.7L350.2,285.0L350.6,287.4L351.1,288.1L351.5,293.1L351.9,296.8L352.4,297.4L352.8,300.4L353.2,303.9L353.6,304.8L354.1,304.9L354.5,305.4L354.9,309.6L355.4,310.6L355.8,310.4L356.2,312.3L356.7,311.0L357.1,313.1L357.5,313.0L357.9,313.0L358.4,314.6L358.8,314.8L359.2,313.9L359.7,313.5L360.1,314.7L360.5,315.7L360.9,315.4L361.4,313.3L361.8,314.4L362.2,316.2L362.7,314.9L363.1,314.7L363.5,315.7L364.0,318.7L364.4,317.7L364.8,316.6L365.2,316.7L365.7,317.2L366.1,317.2L366.5,316.6L367.0,317.6L367.4,317.3L367.8,317.7L368.3,319.3L368.7,320.1L369.1,319.2L369.5,317.2L370.0,316.0L370.4,317.2L370.8,317.7L371.3,317.9L371.7,318.9L372.1,318.4L372.5,318.3L373.0,318.4L373.4,318.1L373.8,317.8L374.3,319.2L374.7,319.5L375.1,319.5L375.6,319.2L376.0,319.6L376.4,320.2L376.8,319.3L377.3,317.9L377.7,318.5L378.1,319.5L378.6,320.4L379.0,319.4L379.4,319.6L379.8,320.5L380.3,319.5L380.7,320.2L381.1,320.5L381.6,319.7L382.0,319.8L382.4,320.0L382.9,320.1L383.3,319.4L383.7,319.6L384.1,320.5L384.6,320.5L385.0,319.3L385.4,319.4L385.9,318.9L386.3,319.3L386.7,319.8L387.2,319.5L387.6,319.8L388.0,320.3L388.4,319.8L388.9,320.5L389.3,320.5L389.7,319.5L390.2,320.1L390.6,320.1L391.0,320.1L391.4,320.2L391.9,320.2L392.3,320.2L392.7,320.2L393.2,320.1L393.6,320.2L394.0,320.2L394.5,320.2L394.9,320.2L395.3,320.2L395.7,320.2L396.2,320.2L396.6,320.2L397.0,320.2L397.5,320.2L397.9,320.1L398.3,320.2L398.8,320.2L399.2,320.1L399.6,320.2L400.0,320.2L400.5,320.2L400.9,320.2L401.3,320.2L401.8,320.2L402.2,320.2L402.6,320.3L403.0,320.3L403.5,320.2L403.9,320.2L404.3,320.2L404.8,320.2L405.2,320.3L405.6,320.2L406.1,320.2L406.5,320.3L406.9,320.3L407.3,320.3L407.8,320.3L408.2,320.3L408.6,320.3L409.1,320.3L409.5,320.3L409.9,320.3L410.4,320.2L410.8,320.3L411.2,320.3L411.6,320.3L412.1,320.3L412.5,320.3L412.9,320.2L413.4,320.3L413.8,320.3L414.2,320.3L414.6,320.3L415.1,320.3L415.5,320.3L415.9,320.3L416.4,320.3L416.8,320.3L417.2,320.3L417.7,320.3L418.1,320.3L418.5,320.3L418.9,320.3L419.4,320.3L419.8,320.3L420.2,320.3L420.7,320.3L421.1,320.3L421.5,320.3L422.0,320.3L422.4,320.3L422.8,320.3L423.2,320.3L423.7,320.3L424.1,320.3L424.5,320.3L425.0,320.4L425.4,320.4L425.8,320.4L426.2,320.4L426.7,320.4L427.1,320.4L427.5,320.3L428.0,320.3L428.4,320.4L428.8,320.4L429.3,320.4L429.7,320.4L430.1,320.4L430.5,320.4L431.0,320.4L431.4,320.4L431.8,320.4L432.3,320.4L432.7,320.4L433.1,320.4L433.5,320.4L434.0,320.4L434.4,320.4L434.8,320.4L435.3,320.4L435.7,320.4L436.1,320.4L436.6,320.4L437.0,320.4L437.4,320.4L437.8,320.4L438.3,320.4L438.7,320.4L439.1,320.4L439.6,320.4L440.0,320.4L440.4,320.4L440.9,320.4L441.3,320.4L441.7,320.4L442.1,320.4L442.6,320.4L443.0,320.4L443.4,320.4L443.9,320.4L444.3,320.4L444.7,320.4L445.1,320.4L445.6,320.4L446.0,320.4L446.4,320.4L446.9,320.4L447.3,320.4L447.7,320.4L448.2,320.4L448.6,320.4L449.0,320.4L449.4,320.4L449.9,320.4L450.3,320.4L450.7,320.4L451.2,320.4L451.6,320.4L452.0,320.4L452.5,320.4L452.9,320.4L453.3,320.4L453.7,320.5L454.2,320.4L454.6,320.5L455.0,320.4L455.5,320.4L455.9,320.4L456.3,320.4L456.7,320.4L457.2,320.4L457.6,320.5L458.0,320.5L458.5,320.4L458.9,320.4L459.3,320.4L459.8,320.5L460.2,320.5L460.6,320.5L461.0,320.5L461.5,320.5L461.9,320.5L462.3,320.5L462.8,320.5L463.2,320.5L463.6,320.5L464.1,320.5L464.5,320.5L464.9,320.5L465.3,320.5L465.8,320.5L466.2,320.5L466.6,320.5L467.1,320.5L467.5,320.5L467.9,320.5L468.3,320.5L468.8,320.5L469.2,320.5L469.6,320.5L470.1,320.5L470.5,320.5L470.9,320.5L471.4,320.5L471.8,320.5L472.2,320.5L472.6,320.5L473.1,320.5L473.5,320.5L473.9,320.5L474.4,320.5L474.8,320.5L475.2,320.5L475.7,320.5L476.1,320.5L476.5,320.5L476.9,320.5L477.4,320.5L477.8,320.5L478.2,320.5L478.7,320.5L479.1,320.5L479.5,320.5L479.9,320.5L480.4,320.5L480.8,320.5L481.2,320.5L481.7,320.5L482.1,320.5L482.5,320.5L483.0,320.5L483.4,320.5L483.8,320.5L484.2,320.5L484.7,320.5L485.1,320.5L485.5,320.5L486.0,320.5L486.4,320.5L486.8,320.5L487.2,320.5L487.7,320.5L488.1,320.5L488.5,320.5L489.0,320.5L489.4,320.5L489.8,320.5L490.3,320.5L490.7,320.5L491.1,320.5L491.5,320.5L492.0,320.5L492.4,320.5L492.8,320.5L493.3,320.5L493.7,320.5L494.1,320.5L494.6,320.5L495.0,320.5L495.4,320.5L495.8,320.5L496.3,320.5L496.7,320.5L497.1,320.5L497.6,320.5L498.0,320.5L498.4,320.5L498.8,320.5L499.3,320.5L499.7,320.5L500.1,320.5L500.6,320.5L501.0,320.5L501.4,320.5L501.9,320.5L502.3,320.5L502.7,320.5L503.1,320.5L503.6,320.5L504.0,320.5L504.4,320.5L504.9,320.5L505.3,320.5L505.7,320.5L506.2,320.5L506.6,320.5L507.0,320.5L507.4,320.5L507.9,320.5L508.3,320.5L508.7,320.5L509.2,320.5L509.6,320.5L510.0,320.5L510.4,320.5L510.9,320.5L511.3,320.5L511.7,320.5L512.2,320.5L512.6,320.5L513.0,320.5" stroke="#111" stroke-width="1.5" fill="none" stroke-linejoin="round"/>
<path d="M294.5,320.5L294.9,320.5L295.4,320.5L295.8,320.4L296.2,320.4L296.6,320.4L297.1,320.4L297.5,320.4L297.9,320.3L298.4,320.3L298.8,320.3L299.2,320.3L299.7,320.3L300.1,320.2L300.5,320.2L300.9,320.1L301.4,320.2L301.8,320.2L302.2,320.2L302.7,319.6L303.1,319.6L303.5,320.5L304.0,320.2L304.4,319.3L304.8,320.2L305.2,319.3L305.7,320.3L306.1,320.1L306.5,319.7L307.0,319.9L307.4,319.7L307.8,320.1L308.2,320.5L308.7,320.5L309.1,320.1L309.5,319.6L310.0,319.9L310.4,320.1L310.8,320.5L311.3,320.5L311.7,320.3L312.1,320.5L312.5,319.6L313.0,319.5L313.4,319.5L313.8,319.5L314.3,319.6L314.7,320.5L315.1,320.3L315.6,319.9L316.0,320.4L316.4,320.5L316.8,320.2L317.3,319.6L317.7,318.9L318.1,319.9L318.6,319.2L319.0,318.6L319.4,319.1L319.8,320.2L320.3,320.5L320.7,319.7L321.1,319.2L321.6,318.6L322.0,319.5L322.4,320.4L322.9,318.9L323.3,318.1L323.7,318.4L324.1,318.8L324.6,318.8L325.0,319.7L325.4,318.3L325.9,317.7L326.3,319.6L326.7,318.1L327.1,317.3L327.6,316.8L328.0,316.7L328.4,317.1L328.9,316.8L329.3,316.8L329.7,314.3L330.2,312.8L330.6,315.7L331.0,314.6L331.4,312.4L331.9,312.5L332.3,312.0L332.7,309.2L333.2,309.4L333.6,308.9L334.0,305.8L334.5,303.2L334.9,301.5L335.3,300.7L335.7,294.7L336.2,290.6L336.6,290.6L337.0,286.5L337.5,281.3L337.9,283.2L338.3,277.8L338.7,268.3L339.2,263.6L339.6,259.7L340.0,256.0L340.5,254.5L340.9,251.4L341.3,242.1L341.8,238.9L342.2,236.4L342.6,236.4L343.0,226.9L343.5,227.1L343.9,225.6L344.3,231.0L344.8,231.1L345.2,218.1L345.6,235.0L346.1,220.6L346.5,225.8L346.9,248.1L347.3,251.4L347.8,252.4L348.2,262.3L348.6,254.7L349.1,249.7L349.5,263.8L349.9,276.7L350.3,273.6L350.8,281.2L351.2,289.6L351.6,298.5L352.1,299.6L352.5,300.0L352.9,304.1L353.4,302.2L353.8,300.1L354.2,303.1L354.6,305.9L355.1,307.6L355.5,307.5L355.9,309.6L356.4,310.3L356.8,310.5L357.2,312.5L357.7,313.0L358.1,312.5L358.5,312.3L358.9,312.0L359.4,312.8L359.8,314.9L360.2,315.2L360.7,314.1L361.1,314.3L361.5,315.8L361.9,314.2L362.4,314.4L362.8,313.5L363.2,315.6L363.7,316.5L364.1,315.5L364.5,316.1L365.0,316.0L365.4,318.3L365.8,317.7L366.2,317.6L366.7,317.9L367.1,315.8L367.5,316.3L368.0,317.1L368.4,316.7L368.8,315.4L369.3,315.7L369.7,317.4L370.1,317.5L370.5,319.2L371.0,319.7L371.4,318.1L371.8,318.0L372.3,318.7L372.7,317.9L373.1,319.5L373.5,319.9L374.0,319.3L374.4,318.8L374.8,318.5L375.3,318.0L375.7,318.7L376.1,318.2L376.6,318.4L377.0,319.2L377.4,317.9L377.8,319.4L378.3,319.8L378.7,319.4L379.1,319.3L379.6,319.9L380.0,318.8L380.4,318.2L380.8,319.0L381.3,320.0L381.7,320.5L382.1,319.4L382.6,320.2L383.0,319.6L383.4,320.5L383.9,319.5L384.3,319.6L384.7,319.2L385.1,319.4L385.6,319.5L386.0,319.2L386.4,318.6L386.9,318.5L387.3,319.9L387.7,320.5L388.2,320.5L388.6,319.1L389.0,318.9L389.4,319.4L389.9,320.2L390.3,320.5L390.7,320.0L391.2,320.1L391.6,320.1L392.0,320.1L392.4,320.1L392.9,320.1L393.3,320.2L393.7,320.1L394.2,320.2L394.6,320.2L395.0,320.2L395.5,320.2L395.9,320.2L396.3,320.2L396.7,320.2L397.2,320.2L397.6,320.2L398.0,320.2L398.5,320.2L398.9,320.2L399.3,320.2L399.8,320.2L400.2,320.2L400.6,320.2L401.0,320.2L401.5,320.2L401.9,320.2L402.3,320.2L402.8,320.2L403.2,320.2L403.6,320.2L404.0,320.3L404.5,320.3L404.9,320.3L405.3,320.2L405.8,320.2L406.2,320.3L406.6,320.2L407.1,320.2L407.5,320.3L407.9,320.2L408.3,320.2L408.8,320.2L409.2,320.3L409.6,320.3L410.1,320.3L410.5,320.3L410.9,320.3L411.4,320.3L411.8,320.3L412.2,320.3L412.6,320.3L413.1,320.3L413.5,320.3L413.9,320.3L414.4,320.3L414.8,320.3L415.2,320.3L415.6,320.3L416.1,320.3L416.5,320.3L416.9,320.3L417.4,320.3L417.8,320.3L418.2,320.3L418.7,320.3L419.1,320.3L419.5,320.3L419.9,320.3L420.4,320.3L420.8,320.3L421.2,320.4L421.7,320.3L422.1,320.3L422.5,320.3L423.0,320.3L423.4,320.3L423.8,320.3L424.2,320.3L424.7,320.3L425.1,320.3L425.5,320.3L426.0,320.4L426.4,320.4L426.8,320.3L427.2,320.4L427.7,320.4L428.1,320.4L428.5,320.4L429.0,320.4L429.4,320.4L429.8,320.3L430.3,320.4L430.7,320.4L431.1,320.4L431.5,320.4L432.0,320.4L432.4,320.4L432.8,320.4L433.3,320.4L433.7,320.4L434.1,320.4L434.5,320.4L435.0,320.4L435.4,320.4L435.8,320.4L436.3,320.4L436.7,320.4L437.1,320.4L437.6,320.4L438.0,320.4L438.4,320.4L438.8,320.4L439.3,320.4L439.7,320.4L440.1,320.4L440.6,320.4L441.0,320.4L441.4,320.4L441.9,320.4L442.3,320.4L442.7,320.4L443.1,320.4L443.6,320.4L444.0,320.4L444.4,320.4L444.9,320.4L445.3,320.4L445.7,320.4L446.1,320.4L446.6,320.4L447.0,320.4L447.4,320.4L447.9,320.4L448.3,320.4L448.7,320.4L449.2,320.4L449.6,320.4L450.0,320.4L450.4,320.4L450.9,320.4L451.3,320.4L451.7,320.4L452.2,320.4L452.6,320.4L453.0,320.4L453.5,320.4L453.9,320.4L454.3,320.4L454.7,320.4L455.2,320.4L455.6,320.4L456.0,320.4L456.5,320.4L456.9,320.4L457.3,320.5L457.7,320.5L458.2,320.4L458.6,320.4L459.0,320.4L459.5,320.4L459.9,320.5L460.3,320.5L460.8,320.5L461.2,320.5L461.6,320.5L462.0,320.5L462.5,320.5L462.9,320.5L463.3,320.5L463.8,320.5L464.2,320.5L464.6,320.5L465.1,320.5L465.5,320.5L465.9,320.5L466.3,320.5L466.8,320.5L467.2,320.5L467.6,320.5L468.1,320.5L468.5,320.5L468.9,320.5L469.3,320.5L469.8,320.5L470.2,320.5L470.6,320.5L471.1,320.5L471.5,320.5L471.9,320.5L472.4,320.5L472.8,320.5L473.2,320.5L473.6,320.5L474.1,320.5L474.5,320.5L474.9,320.5L475.4,320.5L475.8,320.5L476.2,320.5L476.7,320.5L477.1,320.5L477.5,320.5L477.9,320.5L478.4,320.5L478.8,320.5L479.2,320.5L479.7,320.5L480.1,320.5L480.5,320.5L480.9,320.5L481.4,320.5L481.8,320.5L482.2,320.5L482.7,320.5L483.1,320.5L483.5,320.5L484.0,320.5L484.4,320.5L484.8,320.5L485.2,320.5L485.7,320.5L486.1,320.5L486.5,320.5L487.0,320.5L487.4,320.5L487.8,320.5L488.2,320.5L488.7,320.5L489.1,320.5L489.5,320.5L490.0,320.5L490.4,320.5L490.8,320.5L491.3,320.5L491.7,320.5L492.1,320.5L492.5,320.5L493.0,320.5L493.4,320.5L493.8,320.5L494.3,320.5L494.7,320.5L495.1,320.5L495.6,320.5L496.0,320.5L496.4,320.5L496.8,320.5L497.3,320.5L497.7,320.5L498.1,320.5L498.6,320.5L499.0,320.5L499.4,320.5L499.8,320.5L500.3,320.5L500.7,320.5L501.1,320.5L501.6,320.5L502.0,320.5L502.4,320.5L502.9,320.5L503.3,320.5L503.7,320.5L504.1,320.5L504.6,320.5L505.0,320.5L505.4,320.5L505.9,320.5L506.3,320.5L506.7,320.5L507.2,320.5L507.6,320.5L508.0,320.5L508.4,320.5L508.9,320.5L509.3,320.5L509.7,320.5L510.2,320.5L510.6,320.5L511.0,320.5L511.4,320.5L511.9,320.5L512.3,320.5L512.7,320.5L513.2,320.5L513.6,320.5L514.0,320.5" stroke="#cc1040" stroke-width="1.3" fill="none" stroke-linejoin="round"/>
<path d="M41.1,489.6L41.5,489.4L41.9,489.6L42.4,487.9L42.8,489.1L43.2,487.3L43.6,487.7L44.1,487.5L44.5,487.2L44.9,486.2L45.4,487.4L45.8,486.0L46.2,487.2L46.7,487.5L47.1,488.3L47.5,489.4L47.9,489.3L48.4,487.9L48.8,487.2L49.2,487.8L49.7,487.6L50.1,487.0L50.5,486.5L51.0,484.9L51.4,485.5L51.8,484.9L52.2,486.3L52.7,485.4L53.1,485.2L53.5,487.5L54.0,487.4L54.4,485.0L54.8,486.4L55.2,488.3L55.7,487.6L56.1,487.2L56.5,486.4L57.0,485.3L57.4,486.8L57.8,487.7L58.3,489.6L58.7,488.6L59.1,486.9L59.5,484.7L60.0,488.2L60.4,488.4L60.8,487.4L61.3,485.7L61.7,488.1L62.1,487.1L62.6,485.8L63.0,487.9L63.4,488.7L63.8,485.6L64.3,485.2L64.7,485.1L65.1,487.6L65.6,485.2L66.0,487.2L66.4,485.6L66.8,485.1L67.3,487.4L67.7,487.3L68.1,487.7L68.6,486.1L69.0,486.1L69.4,486.4L69.9,489.2L70.3,489.6L70.7,486.8L71.1,487.1L71.6,487.2L72.0,487.3L72.4,485.4L72.9,483.8L73.3,485.1L73.7,485.1L74.2,487.3L74.6,485.3L75.0,485.7L75.4,488.2L75.9,487.6L76.3,488.6L76.7,487.6L77.2,487.1L77.6,487.1L78.0,486.1L78.4,487.4L78.9,486.6L79.3,485.9L79.7,485.4L80.2,485.1L80.6,486.1L81.0,486.8L81.5,488.2L81.9,486.7L82.3,484.3L82.7,483.9L83.2,484.8L83.6,486.9L84.0,485.4L84.5,481.6L84.9,484.9L85.3,484.9L85.8,484.9L86.2,483.4L86.6,482.0L87.0,485.3L87.5,486.9L87.9,485.2L88.3,483.4L88.8,485.5L89.2,486.7L89.6,486.1L90.0,485.5L90.5,485.4L90.9,483.8L91.3,483.8L91.8,480.8L92.2,482.3L92.6,482.3L93.1,482.9L93.5,481.5L93.9,482.4L94.3,484.7L94.8,479.2L95.2,475.0L95.6,474.3L96.1,479.0L96.5,473.5L96.9,469.9L97.3,481.3L97.8,470.2L98.2,463.8L98.6,465.3L99.1,460.8L99.5,461.9L99.9,455.6L100.4,453.2L100.8,450.5L101.2,456.8L101.6,448.6L102.1,447.3L102.5,442.4L102.9,441.0L103.4,442.3L103.8,449.1L104.2,436.1L104.7,435.5L105.1,424.4L105.5,419.0L105.9,433.4L106.4,423.0L106.8,412.1L107.2,415.4L107.7,415.5L108.1,428.8L108.5,409.7L108.9,387.8L109.4,391.8L109.8,401.3L110.2,401.7L110.7,389.0L111.1,393.0L111.5,379.2L112.0,403.8L112.4,388.2L112.8,379.9L113.2,394.6L113.7,392.9L114.1,399.5L114.5,398.2L115.0,383.5L115.4,387.1L115.8,390.5L116.3,397.4L116.7,411.3L117.1,395.8L117.5,379.2L118.0,398.8L118.4,410.2L118.8,390.6L119.3,405.6L119.7,391.4L120.1,395.5L120.5,407.1L121.0,403.1L121.4,404.4L121.8,417.7L122.3,412.6L122.7,414.8L123.1,404.0L123.6,422.7L124.0,427.3L124.4,428.8L124.8,428.2L125.3,427.7L125.7,430.6L126.1,422.5L126.6,459.4L127.0,421.5L127.4,420.5L127.9,432.6L128.3,429.1L128.7,441.9L129.1,431.3L129.6,425.2L130.0,444.1L130.4,433.5L130.9,437.3L131.3,446.7L131.7,441.9L132.1,432.5L132.6,445.3L133.0,439.8L133.4,450.8L133.9,449.1L134.3,453.1L134.7,448.6L135.2,464.8L135.6,451.6L136.0,453.2L136.4,453.1L136.9,454.4L137.3,457.8L137.7,455.0L138.2,460.8L138.6,464.7L139.0,459.3L139.5,466.0L139.9,460.4L140.3,458.2L140.7,465.5L141.2,468.4L141.6,471.4L142.0,471.1L142.5,479.7L142.9,481.6L143.3,472.3L143.7,476.4L144.2,473.0L144.6,472.7L145.0,475.6L145.5,476.4L145.9,473.7L146.3,473.6L146.8,477.0L147.2,475.1L147.6,478.7L148.0,480.6L148.5,479.2L148.9,482.0L149.3,483.8L149.8,482.8L150.2,480.8L150.6,481.8L151.0,483.3L151.5,481.1L151.9,481.4L152.3,483.2L152.8,481.5L153.2,482.7L153.6,483.9L154.1,485.7L154.5,485.8L154.9,483.3L155.3,484.5L155.8,486.1L156.2,482.7L156.6,484.9L157.1,484.7L157.5,483.9L157.9,484.7L158.4,484.1L158.8,483.5L159.2,484.2L159.6,485.7L160.1,487.7L160.5,487.5L160.9,489.5L161.4,486.5L161.8,482.9L162.2,484.5L162.6,486.5L163.1,487.7L163.5,487.9L163.9,487.0L164.4,486.5L164.8,486.2L165.2,488.6L165.7,488.3L166.1,486.2L166.5,486.0L166.9,486.2L167.4,487.0L167.8,486.8L168.2,486.6L168.7,487.4L169.1,488.3L169.5,486.9L170.0,485.7L170.4,487.5L170.8,489.6L171.2,488.1L171.7,488.5L172.1,489.2L172.5,486.2L173.0,485.4L173.4,489.6L173.8,489.4L174.2,486.8L174.7,489.4L175.1,489.6L175.5,489.0L176.0,489.6L176.4,489.6L176.8,488.7L177.3,489.6L177.7,489.6L178.1,489.6L178.5,488.2L179.0,489.3L179.4,488.5L179.8,487.8L180.3,489.6L180.7,489.0L181.1,488.9L181.6,489.0L182.0,489.0L182.4,489.0L182.8,489.1L183.3,489.1L183.7,489.1L184.1,489.1L184.6,489.0L185.0,489.1L185.4,489.1L185.8,489.1L186.3,489.1L186.7,489.2L187.1,489.2L187.6,489.2L188.0,489.2L188.4,489.3L188.9,489.3L189.3,489.3L189.7,489.3L190.1,489.3L190.6,489.3L191.0,489.4L191.4,489.3L191.9,489.3L192.3,489.3L192.7,489.3L193.2,489.4L193.6,489.4L194.0,489.4L194.4,489.4L194.9,489.4L195.3,489.4L195.7,489.4L196.2,489.4L196.6,489.4L197.0,489.4L197.4,489.4L197.9,489.4L198.3,489.5L198.7,489.4L199.2,489.4L199.6,489.4" stroke="#111" stroke-width="1.2" fill="none" stroke-linejoin="round"/>
<path d="M43.2,489.0L43.6,486.8L44.0,488.1L44.4,489.6L44.9,486.9L45.3,485.7L45.7,487.9L46.2,489.0L46.6,486.1L47.0,487.0L47.5,486.5L47.9,487.1L48.3,487.6L48.7,488.2L49.2,488.7L49.6,485.6L50.0,486.6L50.5,485.6L50.9,486.4L51.3,485.1L51.8,486.8L52.2,487.8L52.6,484.7L53.0,486.5L53.5,487.7L53.9,487.2L54.3,487.1L54.8,485.9L55.2,485.9L55.6,488.6L56.0,488.8L56.5,488.6L56.9,487.1L57.3,487.8L57.8,486.8L58.2,485.1L58.6,486.6L59.1,487.3L59.5,487.2L59.9,486.9L60.3,483.4L60.8,486.6L61.2,488.8L61.6,486.5L62.1,487.5L62.5,489.6L62.9,488.6L63.4,488.4L63.8,489.2L64.2,486.7L64.6,486.9L65.1,483.8L65.5,487.0L65.9,485.5L66.4,486.8L66.8,486.1L67.2,487.8L67.6,487.9L68.1,486.9L68.5,485.9L68.9,485.6L69.4,486.4L69.8,487.1L70.2,485.2L70.7,483.7L71.1,487.3L71.5,486.0L71.9,486.7L72.4,486.5L72.8,487.5L73.2,486.7L73.7,486.8L74.1,486.6L74.5,486.5L75.0,487.9L75.4,486.6L75.8,487.9L76.2,485.6L76.7,486.4L77.1,487.2L77.5,486.5L78.0,483.9L78.4,483.6L78.8,483.8L79.2,485.2L79.7,486.6L80.1,486.3L80.5,486.0L81.0,484.4L81.4,483.6L81.8,487.2L82.3,487.6L82.7,484.8L83.1,486.8L83.5,487.5L84.0,487.0L84.4,484.6L84.8,487.4L85.3,485.4L85.7,485.1L86.1,487.1L86.6,485.9L87.0,483.9L87.4,484.6L87.8,483.5L88.3,484.5L88.7,485.8L89.1,484.8L89.6,484.1L90.0,484.4L90.4,484.8L90.8,484.1L91.3,482.5L91.7,481.5L92.1,480.9L92.6,483.2L93.0,483.1L93.4,482.2L93.9,484.6L94.3,485.6L94.7,481.5L95.1,481.5L95.6,483.8L96.0,479.1L96.4,475.6L96.9,473.9L97.3,473.4L97.7,472.8L98.1,469.4L98.6,468.6L99.0,467.2L99.4,470.2L99.9,471.5L100.3,465.3L100.7,458.5L101.2,452.5L101.6,450.8L102.0,452.0L102.4,456.1L102.9,453.9L103.3,443.1L103.7,445.2L104.2,445.1L104.6,444.2L105.0,441.5L105.5,442.6L105.9,439.7L106.3,433.4L106.7,427.9L107.2,431.2L107.6,427.9L108.0,421.3L108.5,420.6L108.9,406.7L109.3,408.9L109.7,409.2L110.2,408.4L110.6,406.5L111.0,418.0L111.5,413.1L111.9,394.7L112.3,388.3L112.8,398.0L113.2,397.3L113.6,392.4L114.0,394.1L114.5,390.4L114.9,382.9L115.3,390.3L115.8,397.4L116.2,402.7L116.6,401.0L117.1,394.0L117.5,401.3L117.9,403.0L118.3,413.7L118.8,421.0L119.2,405.0L119.6,414.7L120.1,427.4L120.5,402.8L120.9,411.7L121.3,419.7L121.8,415.3L122.2,411.2L122.6,413.8L123.1,412.0L123.5,419.9L123.9,417.2L124.4,415.9L124.8,416.6L125.2,418.2L125.6,424.8L126.1,429.5L126.5,430.8L126.9,428.2L127.4,438.1L127.8,440.8L128.2,433.8L128.7,434.2L129.1,435.4L129.5,433.2L129.9,432.2L130.4,431.3L130.8,435.8L131.2,445.1L131.7,448.5L132.1,441.1L132.5,443.4L132.9,441.8L133.4,445.2L133.8,446.4L134.2,451.1L134.7,450.1L135.1,452.6L135.5,448.0L136.0,450.8L136.4,460.7L136.8,459.0L137.2,453.2L137.7,457.6L138.1,457.1L138.5,458.8L139.0,458.9L139.4,466.3L139.8,463.4L140.3,464.3L140.7,466.0L141.1,464.6L141.5,467.4L142.0,465.7L142.4,470.5L142.8,471.1L143.3,472.4L143.7,473.4L144.1,472.1L144.5,472.1L145.0,473.0L145.4,474.6L145.8,475.6L146.3,476.1L146.7,479.0L147.1,475.6L147.6,478.2L148.0,481.3L148.4,481.0L148.8,480.2L149.3,481.2L149.7,478.4L150.1,481.6L150.6,482.5L151.0,483.1L151.4,480.4L151.8,481.3L152.3,482.7L152.7,483.5L153.1,482.5L153.6,485.6L154.0,485.3L154.4,485.7L154.9,486.8L155.3,486.3L155.7,485.3L156.1,485.8L156.6,484.3L157.0,481.8L157.4,484.0L157.9,483.8L158.3,483.9L158.7,486.2L159.2,484.3L159.6,485.3L160.0,485.8L160.4,486.5L160.9,488.8L161.3,489.6L161.7,488.0L162.2,485.7L162.6,487.3L163.0,486.3L163.4,487.6L163.9,486.3L164.3,486.2L164.7,487.5L165.2,488.2L165.6,488.9L166.0,487.1L166.5,487.6L166.9,489.6L167.3,488.5L167.7,486.3L168.2,488.7L168.6,487.9L169.0,487.2L169.5,487.4L169.9,486.8L170.3,489.6L170.8,488.0L171.2,489.2L171.6,488.4L172.0,485.9L172.5,488.6L172.9,489.1L173.3,488.1L173.8,485.3L174.2,487.9L174.6,487.2L175.0,486.7L175.5,487.0L175.9,488.8L176.3,489.6L176.8,488.9L177.2,485.7L177.6,486.8L178.1,488.0L178.5,489.4L178.9,489.3L179.3,489.3L179.8,486.9L180.2,488.0L180.6,488.9L181.1,489.6L181.5,489.6L181.9,489.0L182.4,489.0L182.8,489.0L183.2,489.0L183.6,489.1L184.1,489.1L184.5,489.0L184.9,489.1L185.4,489.1L185.8,489.2L186.2,489.2L186.6,489.2L187.1,489.2L187.5,489.2L187.9,489.2L188.4,489.3L188.8,489.3L189.2,489.3L189.7,489.3L190.1,489.3L190.5,489.3L190.9,489.3L191.4,489.3L191.8,489.3L192.2,489.3L192.7,489.3L193.1,489.4L193.5,489.3L194.0,489.4L194.4,489.4L194.8,489.4L195.2,489.4L195.7,489.4L196.1,489.4" stroke="#cc1040" stroke-width="1.6" fill="none" stroke-linejoin="round"/>
<path d="M11.0,489.6L11.4,489.6L11.9,489.6L12.3,489.6L12.7,489.6L13.1,489.6L13.6,489.6L14.0,489.6L14.4,489.6L14.9,489.6L15.3,489.5L15.7,489.6L16.2,489.5L16.6,489.5L17.0,489.5L17.4,489.5L17.9,489.5L18.3,489.5L18.7,489.5L19.2,489.4L19.6,489.4L20.0,489.4L20.5,489.4L20.9,489.3L21.3,489.3L21.7,489.3L22.2,489.3L22.6,489.3L23.0,489.3L23.5,489.2L23.9,489.2L24.3,489.2L24.7,489.1L25.2,489.1L25.6,489.0L26.0,489.1L26.5,489.0L26.9,489.0L27.3,489.0L27.8,489.1L28.2,488.8L28.6,488.8L29.0,489.2L29.5,488.2L29.9,489.6L30.3,488.1L30.8,489.6L31.2,489.5L31.6,489.6L32.1,489.6L32.5,488.9L32.9,487.6L33.3,488.5L33.8,488.0L34.2,487.6L34.6,487.6L35.1,489.6L35.5,488.7L35.9,488.5L36.3,489.6L36.8,489.6L37.2,489.6L37.6,488.8L38.1,488.4L38.5,488.7L38.9,486.0L39.4,485.8L39.8,486.9L40.2,486.5L40.6,485.9L41.1,486.8L41.5,487.5L41.9,484.0L42.4,486.2L42.8,486.7L43.2,485.7L43.6,481.1L44.1,480.3L44.5,477.3L44.9,476.4L45.4,476.6L45.8,478.5L46.2,470.5L46.7,471.6L47.1,476.6L47.5,474.6L47.9,466.5L48.4,458.2L48.8,459.9L49.2,457.3L49.7,456.6L50.1,447.9L50.5,447.8L51.0,442.8L51.4,450.9L51.8,435.4L52.2,433.8L52.7,435.0L53.1,444.6L53.5,446.5L54.0,432.6L54.4,439.8L54.8,426.8L55.2,425.2L55.7,433.0L56.1,421.6L56.5,426.2L57.0,432.4L57.4,431.0L57.8,423.9L58.3,412.7L58.7,423.4L59.1,409.7L59.5,410.9L60.0,419.2L60.4,414.0L60.8,421.1L61.3,427.7L61.7,414.7L62.1,400.8L62.6,424.5L63.0,429.1L63.4,428.7L63.8,433.1L64.3,425.4L64.7,416.4L65.1,410.0L65.6,405.5L66.0,410.5L66.4,420.6L66.8,416.5L67.3,429.4L67.7,436.2L68.1,427.0L68.6,433.8L69.0,430.0L69.4,431.4L69.9,428.9L70.3,431.1L70.7,437.1L71.1,436.6L71.6,424.4L72.0,424.3L72.4,436.6L72.9,431.0L73.3,427.1L73.7,435.3L74.2,442.4L74.6,443.6L75.0,436.6L75.4,443.4L75.9,448.9L76.3,445.8L76.7,447.9L77.2,446.6L77.6,456.2L78.0,449.2L78.4,445.0L78.9,450.8L79.3,464.3L79.7,459.8L80.2,454.1L80.6,450.8L81.0,454.8L81.5,456.2L81.9,457.1L82.3,453.2L82.7,456.4L83.2,458.3L83.6,460.1L84.0,466.8L84.5,463.9L84.9,452.6L85.3,457.9L85.8,463.5L86.2,464.4L86.6,463.8L87.0,464.9L87.5,459.5L87.9,465.2L88.3,467.7L88.8,466.4L89.2,463.6L89.6,460.7L90.0,468.5L90.5,466.7L90.9,460.3L91.3,468.9L91.8,472.4L92.2,471.0L92.6,471.7L93.1,471.4L93.5,474.5L93.9,466.2L94.3,463.3L94.8,471.4L95.2,470.8L95.6,470.6L96.1,468.3L96.5,470.4L96.9,475.0L97.3,472.1L97.8,464.4L98.2,466.1L98.6,473.5L99.1,470.5L99.5,471.5L99.9,472.7L100.4,469.5L100.8,470.8L101.2,470.4L101.6,477.7L102.1,477.7L102.5,475.2L102.9,479.0L103.4,480.5L103.8,473.0L104.2,471.2L104.7,472.8L105.1,476.3L105.5,477.6L105.9,473.7L106.4,478.5L106.8,478.0L107.2,479.7L107.7,478.3L108.1,475.3L108.5,475.5L108.9,477.4L109.4,473.7L109.8,476.1L110.2,474.4L110.7,474.8L111.1,474.8L111.5,477.6L112.0,478.8L112.4,479.9L112.8,479.8L113.2,475.4L113.7,478.0L114.1,477.1L114.5,479.4L115.0,480.8L115.4,478.2L115.8,480.3L116.3,479.1L116.7,477.4L117.1,481.4L117.5,482.3L118.0,481.5L118.4,478.2L118.8,476.8L119.3,480.0L119.7,484.5L120.1,482.5L120.5,483.3L121.0,482.9L121.4,482.0L121.8,483.6L122.3,483.8L122.7,482.7L123.1,480.7L123.6,481.8L124.0,484.4L124.4,483.4L124.8,482.7L125.3,482.6L125.7,483.7L126.1,484.4L126.6,481.6L127.0,484.1L127.4,485.5L127.9,484.5L128.3,483.1L128.7,483.2L129.1,484.0L129.6,486.2L130.0,489.6L130.4,485.4L130.9,486.0L131.3,485.6L131.7,486.8L132.1,487.9L132.6,486.8L133.0,485.5L133.4,487.7L133.9,488.5L134.3,486.7L134.7,486.7L135.2,488.3L135.6,489.6L136.0,486.9L136.4,486.5L136.9,485.6L137.3,486.5L137.7,487.7L138.2,485.3L138.6,484.9L139.0,485.0L139.5,485.0L139.9,488.6L140.3,489.6L140.7,488.4L141.2,487.1L141.6,487.2L142.0,487.8L142.5,488.5L142.9,488.1L143.3,487.6L143.7,489.0L144.2,489.4L144.6,489.5L145.0,489.4L145.5,489.3L145.9,489.2L146.3,488.5L146.8,486.8L147.2,486.9L147.6,488.4L148.0,488.7L148.5,486.8L148.9,486.0L149.3,488.9L149.8,488.5L150.2,489.6L150.6,487.1L151.0,486.6L151.5,487.0L151.9,488.9L152.3,486.6L152.8,488.1L153.2,489.0L153.6,485.0L154.1,487.0L154.5,487.7L154.9,487.6L155.3,489.4L155.8,488.3L156.2,485.2L156.6,487.0L157.1,488.9L157.5,489.6L157.9,489.0L158.4,487.5L158.8,489.4L159.2,487.4L159.6,488.9L160.1,489.0L160.5,489.6L160.9,488.1L161.4,487.4L161.8,489.6L162.2,488.7L162.6,489.6L163.1,487.8L163.5,488.6L163.9,488.5L164.4,489.6L164.8,489.6L165.2,488.3L165.7,489.6L166.1,489.6L166.5,488.6L166.9,489.6L167.4,488.5L167.8,488.1L168.2,488.4L168.7,489.6L169.1,489.0L169.5,488.9L170.0,489.0L170.4,489.0L170.8,489.0L171.2,489.1L171.7,488.9L172.1,489.0L172.5,489.0L173.0,488.9L173.4,488.9L173.8,489.0L174.2,489.1L174.7,489.1L175.1,489.1L175.5,488.9L176.0,489.0L176.4,489.0L176.8,489.1L177.3,489.1L177.7,489.0L178.1,489.0L178.5,489.0L179.0,489.1L179.4,489.1L179.8,489.1L180.3,489.1L180.7,489.0L181.1,489.1L181.6,489.2L182.0,489.1L182.4,489.2L182.8,489.2L183.3,489.1L183.7,489.1L184.1,489.2L184.6,489.3L185.0,489.2L185.4,489.2L185.8,489.2L186.3,489.2L186.7,489.3L187.1,489.2L187.6,489.2L188.0,489.3L188.4,489.3L188.9,489.2L189.3,489.2L189.7,489.2L190.1,489.3L190.6,489.2L191.0,489.2L191.4,489.3L191.9,489.3L192.3,489.3L192.7,489.3L193.2,489.3L193.6,489.3L194.0,489.3L194.4,489.3L194.9,489.3L195.3,489.3L195.7,489.3L196.2,489.3L196.6,489.4L197.0,489.4L197.4,489.3L197.9,489.4L198.3,489.3L198.7,489.4L199.2,489.4L199.6,489.4L200.0,489.4L200.5,489.4L200.9,489.4L201.3,489.4L201.7,489.4L202.2,489.4L202.6,489.4L203.0,489.5L203.5,489.5L203.9,489.4L204.3,489.4L204.7,489.5L205.2,489.4L205.6,489.4L206.0,489.5L206.5,489.5L206.9,489.5L207.3,489.5L207.8,489.5L208.2,489.5L208.6,489.5L209.0,489.5L209.5,489.5L209.9,489.5L210.3,489.5L210.8,489.5L211.2,489.5L211.6,489.5L212.1,489.5L212.5,489.5L212.9,489.5L213.3,489.5L213.8,489.5L214.2,489.5L214.6,489.5L215.1,489.5L215.5,489.5L215.9,489.5L216.3,489.5L216.8,489.5L217.2,489.5L217.6,489.6L218.1,489.6L218.5,489.6L218.9,489.6L219.4,489.6L219.8,489.6L220.2,489.6L220.6,489.6L221.1,489.6L221.5,489.6L221.9,489.6L222.4,489.6L222.8,489.6L223.2,489.6L223.7,489.6L224.1,489.6L224.5,489.6L224.9,489.6L225.4,489.6L225.8,489.6L226.2,489.6L226.7,489.6L227.1,489.6L227.5,489.6L227.9,489.6L228.4,489.6L228.8,489.6L229.2,489.6L229.7,489.6L230.1,489.6L230.5,489.6" stroke="#23903a" stroke-width="1.0" fill="none" stroke-dasharray="2,1.5" stroke-linejoin="round"/>
<path d="M309.5,490.3L310.0,490.3L310.4,490.3L310.8,490.3L311.3,490.1L311.7,489.9L312.1,490.3L312.5,487.7L313.0,487.1L313.4,489.0L313.8,488.3L314.3,488.0L314.7,487.2L315.1,488.7L315.6,485.4L316.0,484.3L316.4,485.2L316.8,484.5L317.3,484.8L317.7,483.7L318.1,483.1L318.6,485.8L319.0,484.7L319.4,485.8L319.8,485.9L320.3,486.0L320.7,486.5L321.1,485.3L321.6,486.8L322.0,485.4L322.4,485.1L322.9,485.0L323.3,484.3L323.7,485.9L324.1,487.5L324.6,489.5L325.0,487.3L325.4,483.4L325.9,483.6L326.3,485.4L326.7,488.2L327.1,486.2L327.6,486.0L328.0,486.2L328.4,487.1L328.9,487.3L329.3,483.6L329.7,483.0L330.2,484.2L330.6,488.1L331.0,485.4L331.4,486.6L331.9,486.1L332.3,485.0L332.7,488.2L333.2,486.9L333.6,486.8L334.0,488.0L334.5,485.5L334.9,485.4L335.3,487.3L335.7,485.5L336.2,486.9L336.6,485.1L337.0,484.5L337.5,485.5L337.9,485.7L338.3,486.7L338.7,486.2L339.2,486.5L339.6,485.3L340.0,485.3L340.5,486.8L340.9,484.0L341.3,484.3L341.8,480.9L342.2,483.3L342.6,484.4L343.0,485.4L343.5,484.9L343.9,485.8L344.3,485.6L344.8,484.7L345.2,486.7L345.6,486.4L346.1,485.1L346.5,483.5L346.9,486.9L347.3,483.9L347.8,482.9L348.2,482.1L348.6,482.4L349.1,482.2L349.5,483.5L349.9,485.1L350.3,486.9L350.8,483.0L351.2,483.6L351.6,484.4L352.1,484.6L352.5,486.4L352.9,487.1L353.4,484.7L353.8,483.6L354.2,484.2L354.6,486.6L355.1,483.8L355.5,484.6L355.9,485.0L356.4,486.9L356.8,485.1L357.2,484.0L357.7,484.1L358.1,485.2L358.5,485.3L358.9,482.8L359.4,485.9L359.8,486.4L360.2,482.2L360.7,486.7L361.1,487.6L361.5,483.5L361.9,484.7L362.4,490.3L362.8,490.0L363.2,487.7L363.7,486.1L364.1,487.0L364.5,484.7L365.0,485.2L365.4,488.1L365.8,485.8L366.2,485.6L366.7,486.6L367.1,485.3L367.5,484.2L368.0,486.0L368.4,485.8L368.8,487.6L369.3,486.3L369.7,486.1L370.1,485.0L370.5,485.8L371.0,483.9L371.4,484.3L371.8,485.6L372.3,483.2L372.7,484.3L373.1,485.4L373.5,486.1L374.0,484.7L374.4,486.2L374.8,484.4L375.3,484.7L375.7,484.3L376.1,484.3L376.6,485.3L377.0,485.7L377.4,485.9L377.8,485.4L378.3,484.8L378.7,485.0L379.1,482.7L379.6,484.8L380.0,486.0L380.4,482.6L380.8,483.3L381.3,484.3L381.7,485.2L382.1,486.2L382.6,488.4L383.0,487.1L383.4,485.2L383.9,483.8L384.3,485.0L384.7,482.6L385.1,484.9L385.6,485.2L386.0,486.8L386.4,484.4L386.9,485.3L387.3,484.3L387.7,488.7L388.2,487.6L388.6,484.9L389.0,482.4L389.4,482.6L389.9,484.3L390.3,486.5L390.7,483.9L391.2,486.6L391.6,484.2L392.0,484.1L392.4,481.7L392.9,484.8L393.3,486.7L393.7,485.3L394.2,485.8L394.6,485.6L395.0,483.2L395.5,483.8L395.9,485.1L396.3,486.5L396.7,484.7L397.2,485.4L397.6,484.0L398.0,486.5L398.5,486.0L398.9,485.2L399.3,482.8L399.8,482.9L400.2,482.7L400.6,484.0L401.0,483.7L401.5,484.6L401.9,485.7L402.3,485.5L402.8,484.4L403.2,485.6L403.6,484.8L404.0,486.4L404.5,485.7L404.9,485.5L405.3,485.3L405.8,482.5L406.2,484.5L406.6,485.5L407.1,484.2L407.5,481.6L407.9,483.9L408.3,485.3L408.8,484.9L409.2,484.3L409.6,481.8L410.1,481.8L410.5,480.9L410.9,486.1L411.4,487.1L411.8,482.1L412.2,480.3L412.6,486.6L413.1,483.2L413.5,483.2L413.9,482.9L414.4,486.7L414.8,487.7L415.2,484.7L415.6,483.6L416.1,485.7L416.5,485.9L416.9,485.3L417.4,483.3L417.8,485.8L418.2,486.1L418.7,484.4L419.1,483.7L419.5,481.6L419.9,481.6L420.4,483.8L420.8,483.7L421.2,487.5L421.7,486.1L422.1,483.1L422.5,486.7L423.0,487.8L423.4,484.8L423.8,485.0L424.2,485.5L424.7,485.4L425.1,484.3L425.5,486.5L426.0,485.9L426.4,485.9L426.8,484.4L427.2,482.5L427.7,483.1L428.1,485.3L428.5,485.9L429.0,486.8L429.4,484.6L429.8,483.4L430.3,485.1L430.7,485.4L431.1,485.8L431.5,487.4L432.0,486.1L432.4,484.6L432.8,484.3L433.3,483.6L433.7,481.5L434.1,484.0L434.5,483.8L435.0,486.9L435.4,485.0L435.8,483.6L436.3,484.2L436.7,484.9L437.1,483.0L437.6,484.6L438.0,482.7L438.4,482.7L438.8,483.2L439.3,482.3L439.7,483.0L440.1,481.4L440.6,485.1L441.0,485.8L441.4,482.6L441.9,482.3L442.3,484.7L442.7,483.5L443.1,480.5L443.6,482.1L444.0,481.9L444.4,481.9L444.9,479.7L445.3,475.5L445.7,477.0L446.1,476.7L446.6,475.3L447.0,475.0L447.4,474.9L447.9,471.5L448.3,470.9L448.7,470.5L449.2,469.1L449.6,467.4L450.0,458.3L450.4,460.2L450.9,461.8L451.3,457.1L451.7,452.7L452.2,461.7L452.6,466.3L453.0,454.5L453.5,442.1L453.9,439.5L454.3,445.8L454.7,447.2L455.2,439.1L455.6,440.4L456.0,440.4L456.5,442.0L456.9,444.3L457.3,454.0L457.7,442.1L458.2,427.8L458.6,430.5L459.0,420.4L459.5,431.4L459.9,430.7L460.3,428.5L460.8,422.0L461.2,415.9L461.6,430.1L462.0,429.6L462.5,424.5L462.9,417.5L463.3,420.1L463.8,425.9L464.2,425.6L464.6,411.2L465.1,413.3L465.5,420.9L465.9,407.5L466.3,417.6L466.8,409.4L467.2,422.4L467.6,420.1L468.1,417.0L468.5,422.5L468.9,426.4L469.3,423.7L469.8,424.9L470.2,423.6L470.6,424.6L471.1,427.9L471.5,428.1L471.9,430.1L472.4,423.0L472.8,434.9L473.2,442.1L473.6,434.9L474.1,426.0L474.5,432.9L474.9,433.7L475.4,432.1L475.8,432.3L476.2,437.7L476.7,439.7L477.1,441.1L477.5,437.1L477.9,444.8L478.4,448.5L478.8,448.8L479.2,441.6L479.7,441.3L480.1,439.6L480.5,444.3L480.9,450.0L481.4,453.4L481.8,455.9L482.2,462.8L482.7,458.9L483.1,461.9L483.5,466.7L484.0,470.1L484.4,464.2L484.8,468.2L485.2,471.5L485.7,466.7L486.1,471.1L486.5,469.9L487.0,470.1L487.4,475.2L487.8,473.4L488.2,475.9L488.7,479.3L489.1,474.5L489.5,474.5L490.0,479.8L490.4,480.2L490.8,479.3L491.3,480.2L491.7,477.9L492.1,481.4L492.5,485.9L493.0,482.4L493.4,480.6L493.8,481.7L494.3,484.0L494.7,484.2L495.1,487.4L495.6,486.1L496.0,486.0L496.4,486.1L496.8,486.9L497.3,488.5L497.7,489.0L498.1,487.1L498.6,487.1L499.0,486.5L499.4,488.7L499.8,487.7L500.3,489.4L500.7,489.4L501.1,487.5L501.6,489.4L502.0,490.3L502.4,489.1L502.9,488.7L503.3,490.3L503.7,489.8L504.1,488.9L504.6,490.3L505.0,489.6L505.4,489.6L505.9,489.8L506.3,489.8L506.7,489.9L507.2,489.9L507.6,489.9L508.0,489.9L508.4,490.0L508.9,490.1L509.3,490.1L509.7,490.1L510.2,490.2L510.6,490.2L511.0,490.2L511.4,490.2L511.9,490.2L512.3,490.3L512.7,490.3L513.2,490.3L513.6,490.3L514.0,490.3" stroke="#111" stroke-width="1.2" fill="none" stroke-linejoin="round"/>
<path d="M309.0,490.3L309.5,490.3L309.9,490.3L310.3,490.3L310.8,490.1L311.2,489.9L311.6,490.3L312.0,488.9L312.5,490.3L312.9,490.2L313.3,486.2L313.8,483.5L314.2,486.9L314.6,487.7L315.1,487.4L315.5,487.1L315.9,488.8L316.3,485.9L316.8,487.0L317.2,486.9L317.6,486.4L318.1,484.4L318.5,485.0L318.9,484.8L319.3,485.4L319.8,483.1L320.2,482.1L320.6,484.4L321.1,484.9L321.5,485.8L321.9,484.8L322.4,485.7L322.8,484.1L323.2,485.0L323.6,485.1L324.1,485.1L324.5,484.0L324.9,481.9L325.4,483.4L325.8,484.6L326.2,487.4L326.6,486.1L327.1,487.8L327.5,485.0L327.9,484.7L328.4,484.9L328.8,485.3L329.2,485.9L329.7,486.0L330.1,485.9L330.5,485.0L330.9,487.3L331.4,483.4L331.8,483.9L332.2,487.9L332.7,488.2L333.1,484.7L333.5,483.7L334.0,484.3L334.4,483.9L334.8,484.8L335.2,485.3L335.7,484.0L336.1,482.8L336.5,485.6L337.0,484.5L337.4,485.4L337.8,486.5L338.2,486.4L338.7,487.0L339.1,485.9L339.5,483.9L340.0,484.3L340.4,483.2L340.8,486.4L341.3,485.5L341.7,485.3L342.1,483.8L342.5,484.7L343.0,485.5L343.4,484.0L343.8,484.1L344.3,485.3L344.7,486.8L345.1,486.9L345.6,484.6L346.0,485.0L346.4,486.2L346.8,484.6L347.3,484.4L347.7,487.4L348.1,489.3L348.6,485.4L349.0,485.3L349.4,485.4L349.8,486.5L350.3,485.8L350.7,484.4L351.1,485.8L351.6,485.6L352.0,485.2L352.4,485.7L352.9,485.7L353.3,487.5L353.7,484.3L354.1,483.5L354.6,486.3L355.0,488.5L355.4,488.7L355.9,487.6L356.3,485.0L356.7,484.7L357.2,485.4L357.6,486.7L358.0,486.6L358.4,486.5L358.9,488.6L359.3,487.8L359.7,484.2L360.2,485.0L360.6,486.5L361.0,487.1L361.4,486.2L361.9,487.3L362.3,484.1L362.7,482.8L363.2,483.2L363.6,483.4L364.0,484.6L364.5,484.1L364.9,484.9L365.3,487.2L365.7,484.5L366.2,485.2L366.6,485.5L367.0,482.4L367.5,484.4L367.9,483.7L368.3,483.4L368.8,486.0L369.2,484.0L369.6,487.3L370.0,487.1L370.5,486.2L370.9,485.7L371.3,485.6L371.8,485.3L372.2,484.3L372.6,486.7L373.0,486.3L373.5,482.9L373.9,484.8L374.3,486.1L374.8,483.4L375.2,483.4L375.6,486.1L376.1,483.1L376.5,482.5L376.9,486.5L377.3,484.9L377.8,479.1L378.2,482.1L378.6,485.2L379.1,485.3L379.5,483.2L379.9,483.5L380.3,484.3L380.8,486.3L381.2,486.1L381.6,485.3L382.1,484.3L382.5,484.2L382.9,485.4L383.4,486.0L383.8,482.9L384.2,483.0L384.6,485.5L385.1,485.0L385.5,483.6L385.9,485.7L386.4,483.2L386.8,484.7L387.2,483.5L387.7,485.2L388.1,485.2L388.5,488.8L388.9,484.9L389.4,484.5L389.8,487.8L390.2,489.2L390.7,486.7L391.1,486.1L391.5,485.1L391.9,486.1L392.4,483.5L392.8,484.8L393.2,485.2L393.7,486.0L394.1,488.8L394.5,487.3L395.0,485.4L395.4,484.1L395.8,484.3L396.2,487.5L396.7,486.9L397.1,483.3L397.5,481.9L398.0,483.3L398.4,483.3L398.8,487.3L399.3,485.2L399.7,486.4L400.1,488.3L400.5,488.5L401.0,481.9L401.4,482.7L401.8,484.2L402.3,482.5L402.7,484.4L403.1,486.3L403.5,485.9L404.0,482.8L404.4,484.1L404.8,486.8L405.3,483.7L405.7,481.3L406.1,483.4L406.6,483.9L407.0,484.1L407.4,480.8L407.8,481.7L408.3,487.9L408.7,485.9L409.1,485.7L409.6,485.4L410.0,481.2L410.4,484.3L410.9,486.5L411.3,482.8L411.7,483.7L412.1,486.9L412.6,486.6L413.0,483.5L413.4,486.7L413.9,486.1L414.3,486.0L414.7,483.6L415.1,485.2L415.6,485.0L416.0,487.7L416.4,487.0L416.9,483.2L417.3,487.1L417.7,486.8L418.2,484.9L418.6,484.8L419.0,484.3L419.4,484.0L419.9,485.4L420.3,484.1L420.7,483.9L421.2,483.5L421.6,482.5L422.0,483.7L422.5,482.5L422.9,484.5L423.3,483.5L423.7,486.5L424.2,486.2L424.6,482.4L425.0,484.7L425.5,483.0L425.9,483.3L426.3,486.4L426.7,484.4L427.2,485.9L427.6,489.1L428.0,482.8L428.5,482.5L428.9,485.3L429.3,485.5L429.8,487.6L430.2,483.9L430.6,485.0L431.0,484.1L431.5,481.7L431.9,483.6L432.3,483.7L432.8,485.6L433.2,485.7L433.6,481.4L434.0,484.3L434.5,484.9L434.9,486.0L435.3,485.3L435.8,483.9L436.2,483.4L436.6,488.2L437.1,488.7L437.5,486.7L437.9,483.8L438.3,484.2L438.8,483.7L439.2,483.4L439.6,484.2L440.1,485.3L440.5,483.5L440.9,482.7L441.4,480.9L441.8,482.6L442.2,482.3L442.6,485.0L443.1,486.3L443.5,482.2L443.9,485.4L444.4,484.2L444.8,485.3L445.2,479.9L445.6,475.6L446.1,475.2L446.5,477.6L446.9,477.3L447.4,476.3L447.8,475.9L448.2,474.5L448.7,470.5L449.1,469.3L449.5,465.5L449.9,469.6L450.4,469.3L450.8,459.3L451.2,456.3L451.7,462.8L452.1,461.1L452.5,455.2L453.0,459.3L453.4,448.3L453.8,441.1L454.2,441.9L454.7,433.8L455.1,439.9L455.5,442.4L456.0,437.5L456.4,425.7L456.8,437.9L457.2,427.4L457.7,429.1L458.1,425.2L458.5,417.2L459.0,407.9L459.4,408.7L459.8,405.8L460.3,418.4L460.7,377.1L461.1,381.1L461.5,393.7L462.0,384.3L462.4,402.7L462.8,425.1L463.3,392.7L463.7,380.0L464.1,405.7L464.6,382.3L465.0,386.0L465.4,399.9L465.8,403.8L466.3,412.8L466.7,422.5L467.1,386.3L467.6,391.3L468.0,414.8L468.4,419.6L468.8,401.6L469.3,396.3L469.7,416.2L470.1,426.3L470.6,425.6L471.0,411.9L471.4,422.7L471.9,433.1L472.3,423.5L472.7,437.1L473.1,448.7L473.6,426.9L474.0,439.9L474.4,441.4L474.9,426.6L475.3,445.9L475.7,441.9L476.2,440.9L476.6,449.9L477.0,454.1L477.4,460.1L477.9,453.2L478.3,464.4L478.7,456.9L479.2,467.4L479.6,464.5L480.0,461.0L480.4,459.3L480.9,464.1L481.3,468.3L481.7,466.2L482.2,467.8L482.6,467.8L483.0,467.0L483.5,461.0L483.9,472.1L484.3,471.0L484.7,467.1L485.2,473.9L485.6,475.5L486.0,485.6L486.5,482.7L486.9,478.1L487.3,478.6L487.7,474.7L488.2,474.2L488.6,474.6L489.0,479.8L489.5,483.7L489.9,485.6L490.3,482.6L490.8,483.6L491.2,485.7L491.6,486.3L492.0,483.3L492.5,483.1L492.9,484.0L493.3,485.8L493.8,485.9L494.2,486.4L494.6,487.2L495.1,487.7L495.5,488.3L495.9,487.4L496.3,488.1L496.8,489.1L497.2,487.8L497.6,489.4L498.1,489.8L498.5,488.5L498.9,489.1L499.3,490.3L499.8,489.5L500.2,489.5L500.6,486.2L501.1,487.0L501.5,488.9L501.9,489.4L502.4,488.9L502.8,488.8L503.2,487.6L503.6,488.4L504.1,487.6L504.5,489.6L504.9,489.6L505.4,489.7L505.8,489.8L506.2,489.9L506.7,489.9L507.1,490.0L507.5,489.9L507.9,490.0L508.4,490.0L508.8,490.1L509.2,490.1L509.7,490.1L510.1,490.1L510.5,490.2L510.9,490.2L511.4,490.2L511.8,490.3L512.2,490.3L512.7,490.3L513.1,490.3L513.5,490.3" stroke="#cc1040" stroke-width="1.2" fill="none" stroke-dasharray="3,1.5" stroke-linejoin="round"/>
<path d="M294.5,490.3L294.9,490.3L295.4,490.3L295.8,490.2L296.2,490.2L296.6,490.2L297.1,490.2L297.5,490.2L297.9,490.1L298.4,490.1L298.8,490.1L299.2,490.0L299.7,490.0L300.1,490.0L300.5,490.0L300.9,490.0L301.4,490.0L301.8,489.9L302.2,490.0L302.7,489.9L303.1,489.9L303.5,489.8L304.0,489.9L304.4,489.8L304.8,489.8L305.2,489.7L305.7,489.7L306.1,489.8L306.5,489.6L307.0,489.6L307.4,489.6L307.8,489.7L308.2,490.3L308.7,488.8L309.1,489.4L309.5,489.3L310.0,489.5L310.4,487.7L310.8,488.5L311.3,487.2L311.7,488.0L312.1,490.0L312.5,489.0L313.0,490.1L313.4,488.4L313.8,489.2L314.3,488.2L314.7,487.7L315.1,487.7L315.6,489.9L316.0,489.2L316.4,489.1L316.8,489.9L317.3,487.9L317.7,488.9L318.1,487.5L318.6,487.8L319.0,489.4L319.4,488.9L319.8,489.8L320.3,489.3L320.7,488.9L321.1,486.3L321.6,487.9L322.0,488.7L322.4,489.5L322.9,488.3L323.3,489.3L323.7,489.8L324.1,490.2L324.6,487.2L325.0,486.6L325.4,489.2L325.9,489.6L326.3,488.1L326.7,489.1L327.1,488.8L327.6,486.2L328.0,488.7L328.4,489.9L328.9,489.0L329.3,490.3L329.7,490.1L330.2,489.4L330.6,489.0L331.0,487.1L331.4,487.2L331.9,489.4L332.3,488.6L332.7,488.4L333.2,490.3L333.6,489.5L334.0,487.2L334.5,487.5L334.9,487.0L335.3,487.7L335.7,488.9L336.2,486.0L336.6,486.7L337.0,487.4L337.5,486.5L337.9,486.8L338.3,488.0L338.7,486.9L339.2,485.0L339.6,486.2L340.0,489.0L340.5,488.2L340.9,488.2L341.3,487.1L341.8,485.9L342.2,486.5L342.6,489.1L343.0,488.6L343.5,486.7L343.9,485.1L344.3,487.2L344.8,488.0L345.2,485.5L345.6,485.3L346.1,488.1L346.5,489.2L346.9,488.2L347.3,485.8L347.8,488.7L348.2,487.5L348.6,488.4L349.1,488.9L349.5,488.6L349.9,486.9L350.3,484.7L350.8,487.4L351.2,485.9L351.6,483.3L352.1,488.2L352.5,485.9L352.9,485.8L353.4,487.1L353.8,485.8L354.2,487.3L354.6,486.1L355.1,487.1L355.5,485.8L355.9,486.1L356.4,486.8L356.8,487.2L357.2,488.1L357.7,487.9L358.1,486.4L358.5,484.8L358.9,486.6L359.4,487.9L359.8,485.4L360.2,487.4L360.7,485.5L361.1,486.9L361.5,486.5L361.9,487.8L362.4,485.9L362.8,486.0L363.2,486.4L363.7,482.8L364.1,485.6L364.5,483.8L365.0,485.3L365.4,483.5L365.8,485.9L366.2,486.7L366.7,485.2L367.1,486.5L367.5,486.2L368.0,483.8L368.4,486.4L368.8,487.1L369.3,486.6L369.7,486.3L370.1,488.2L370.5,485.3L371.0,484.5L371.4,484.9L371.8,483.2L372.3,483.2L372.7,485.2L373.1,485.7L373.5,483.6L374.0,483.1L374.4,482.8L374.8,483.4L375.3,484.3L375.7,484.0L376.1,485.9L376.6,486.8L377.0,483.3L377.4,482.1L377.8,484.5L378.3,485.2L378.7,481.8L379.1,482.4L379.6,482.5L380.0,481.2L380.4,483.9L380.8,485.1L381.3,483.0L381.7,484.1L382.1,483.9L382.6,482.4L383.0,483.1L383.4,482.3L383.9,482.9L384.3,480.9L384.7,482.9L385.1,483.3L385.6,481.7L386.0,479.1L386.4,479.4L386.9,481.7L387.3,476.8L387.7,472.0L388.2,473.8L388.6,475.5L389.0,474.2L389.4,476.9L389.9,472.7L390.3,469.0L390.7,473.1L391.2,471.5L391.6,470.0L392.0,468.6L392.4,465.8L392.9,462.0L393.3,468.7L393.7,466.6L394.2,466.2L394.6,463.5L395.0,461.2L395.5,461.1L395.9,458.8L396.3,457.4L396.7,454.2L397.2,456.7L397.6,461.4L398.0,463.7L398.5,455.1L398.9,456.5L399.3,456.5L399.8,453.0L400.2,447.3L400.6,446.5L401.0,443.9L401.5,437.4L401.9,441.9L402.3,446.9L402.8,438.2L403.2,439.0L403.6,446.3L404.0,435.5L404.5,437.0L404.9,439.9L405.3,437.5L405.8,435.3L406.2,436.8L406.6,438.0L407.1,445.1L407.5,449.6L407.9,446.3L408.3,443.8L408.8,438.9L409.2,438.9L409.6,435.0L410.1,428.6L410.5,430.9L410.9,423.8L411.4,432.7L411.8,432.4L412.2,440.5L412.6,434.3L413.1,432.0L413.5,419.0L413.9,425.7L414.4,432.0L414.8,441.8L415.2,437.1L415.6,428.7L416.1,441.8L416.5,437.2L416.9,429.0L417.4,434.1L417.8,434.0L418.2,431.1L418.7,435.2L419.1,424.7L419.5,432.0L419.9,434.7L420.4,432.9L420.8,433.1L421.2,447.1L421.7,438.3L422.1,430.4L422.5,433.1L423.0,443.7L423.4,446.5L423.8,446.3L424.2,442.9L424.7,445.2L425.1,447.8L425.5,449.0L426.0,448.4L426.4,448.4L426.8,449.2L427.2,447.5L427.7,448.2L428.1,437.2L428.5,452.5L429.0,456.9L429.4,458.5L429.8,453.2L430.3,453.1L430.7,449.9L431.1,453.3L431.5,463.2L432.0,463.1L432.4,461.5L432.8,459.3L433.3,456.4L433.7,457.4L434.1,460.7L434.5,465.3L435.0,464.4L435.4,470.5L435.8,470.0L436.3,468.0L436.7,468.5L437.1,470.2L437.6,473.6L438.0,475.5L438.4,478.0L438.8,468.7L439.3,466.2L439.7,470.5L440.1,471.7L440.6,471.1L441.0,472.3L441.4,475.0L441.9,474.8L442.3,474.8L442.7,475.7L443.1,478.3L443.6,483.3L444.0,482.7L444.4,479.1L444.9,481.3L445.3,481.5L445.7,479.8L446.1,482.8L446.6,479.8L447.0,480.7L447.4,484.8L447.9,481.3L448.3,480.4L448.7,482.6L449.2,483.2L449.6,484.1L450.0,483.4L450.4,483.1L450.9,482.2L451.3,479.5L451.7,482.6L452.2,483.4L452.6,482.8L453.0,482.3L453.5,485.7L453.9,484.5L454.3,485.3L454.7,484.3L455.2,483.0L455.6,484.2L456.0,483.5L456.5,482.7L456.9,485.7L457.3,486.2L457.7,484.3L458.2,479.1L458.6,479.3L459.0,483.0L459.5,483.5L459.9,485.1L460.3,483.9L460.8,484.3L461.2,483.4L461.6,482.5L462.0,482.4L462.5,483.1L462.9,481.5L463.3,484.8L463.8,484.0L464.2,483.2L464.6,485.8L465.1,483.4L465.5,481.0L465.9,485.6L466.3,482.6L466.8,483.1L467.2,484.7L467.6,484.1L468.1,484.1L468.5,485.8L468.9,486.1L469.3,486.1L469.8,485.8L470.2,484.7L470.6,485.6L471.1,486.5L471.5,481.8L471.9,484.2L472.4,484.4L472.8,483.4L473.2,483.4L473.6,484.6L474.1,486.9L474.5,485.1L474.9,484.1L475.4,483.3L475.8,483.2L476.2,483.9L476.7,485.1L477.1,487.0L477.5,485.4L477.9,485.4L478.4,487.3L478.8,487.1L479.2,485.5L479.7,485.2L480.1,486.7L480.5,486.9L480.9,488.1L481.4,485.9L481.8,485.0L482.2,486.5L482.7,486.7L483.1,484.3L483.5,485.3L484.0,486.9L484.4,486.2L484.8,488.9L485.2,488.4L485.7,486.6L486.1,489.2L486.5,488.7L487.0,487.4L487.4,485.9L487.8,485.7L488.2,487.2L488.7,485.7L489.1,484.9L489.5,485.7L490.0,486.5L490.4,488.2L490.8,486.6L491.3,487.9L491.7,489.1L492.1,488.7L492.5,488.9L493.0,489.2L493.4,488.6L493.8,486.1L494.3,489.4L494.7,489.5L495.1,488.3L495.6,489.8L496.0,490.3L496.4,490.1L496.8,487.9L497.3,489.3L497.7,489.8L498.1,489.2L498.6,488.6L499.0,488.1L499.4,488.4L499.8,489.2L500.3,488.2L500.7,487.2L501.1,487.5L501.6,488.5L502.0,488.1L502.4,488.7L502.9,489.5L503.3,490.3L503.7,489.3L504.1,487.5L504.6,490.0L505.0,489.6L505.4,489.6L505.9,489.7L506.3,489.8L506.7,489.8L507.2,489.8L507.6,489.9L508.0,489.9L508.4,489.9L508.9,490.0L509.3,490.0L509.7,490.1L510.2,490.0L510.6,490.1L511.0,490.1L511.4,490.2L511.9,490.2L512.3,490.2L512.7,490.2L513.2,490.3L513.6,490.3L514.0,490.3" stroke="#23903a" stroke-width="1.0" fill="none" stroke-dasharray="2,1.5" stroke-linejoin="round"/>
<path d="M501.6,23H510.4L512.9,25.6V28.4L510.4,31H501.6M510.4,31L513.2,33.6V36.6L510.6,39.2H501.6M501.6,21.8V40.4" stroke="#111" stroke-width="2.8" fill="none"/>
<path d="M230.6,197.6L227.8,194H220.9L219,196.6V208.4L220.9,211H227.8L230.6,207.8" stroke="#111" stroke-width="2.6" fill="none"/>
<path d="M501.5,194.4V211.4H507.6L512.6,205.6V200.4L507.6,194.4Z" stroke="#111" stroke-width="2.6" fill="none"/>
<path d="M231.6,362H219V378.6H231.6M219,370.3H228.8" stroke="#111" stroke-width="2.5" fill="none"/>
<path d="M514.4,363.6H501.8V381M501.8,371.5H511.2" stroke="#111" stroke-width="2.5" fill="none"/>
<text x="399.0" y="89.2" font-family="Liberation Mono" font-size="18.0" font-weight="normal" fill="#111" text-anchor="start" textLength="76" lengthAdjust="spacingAndGlyphs" stroke="#111" stroke-width="0.3">CONTROL</text>
<text x="403.8" y="107.0" font-family="Liberation Mono" font-size="18.0" font-weight="normal" fill="#cc1040" text-anchor="start" textLength="65" lengthAdjust="spacingAndGlyphs" stroke="#cc1040" stroke-width="0.6">MRK-16</text>
<text x="406.6" y="127.0" font-family="Liberation Mono" font-size="18.0" font-weight="normal" fill="#23903a" text-anchor="start" textLength="66" lengthAdjust="spacingAndGlyphs" stroke="#23903a" stroke-width="0.6">MM4.17</text>
<text x="117.9" y="263.1" font-family="Liberation Mono" font-size="18.0" font-weight="normal" fill="#cc1040" text-anchor="start" textLength="32.4" lengthAdjust="spacingAndGlyphs" stroke="#cc1040" stroke-width="0.6">LRP</text>
<text x="378.2" y="260.9" font-family="Liberation Mono" font-size="18.0" font-weight="normal" fill="#cc1040" text-anchor="start" textLength="54.5" lengthAdjust="spacingAndGlyphs" stroke="#cc1040" stroke-width="0.6">MRPm6</text>
<text x="16.8" y="373.8" font-family="Liberation Mono" font-size="18.0" font-weight="normal" fill="#111" text-anchor="start" textLength="55" lengthAdjust="spacingAndGlyphs" stroke="#111" stroke-width="0.3">RH123</text>
<text x="30.6" y="410.0" font-family="Liberation Mono" font-size="18.0" font-weight="normal" fill="#23903a" text-anchor="start" textLength="65.8" lengthAdjust="spacingAndGlyphs" stroke="#23903a" stroke-width="0.6">NO CSA</text>
<text x="133.5" y="421.2" font-family="Liberation Mono" font-size="18.0" font-weight="normal" fill="#111" text-anchor="start" textLength="89" lengthAdjust="spacingAndGlyphs" stroke="#111" stroke-width="0.3">BASELINE</text>
<text x="145.8" y="450.2" font-family="Liberation Mono" font-size="18.0" font-weight="normal" fill="#cc1040" text-anchor="start" textLength="33.5" lengthAdjust="spacingAndGlyphs" stroke="#cc1040" stroke-width="0.6">CSA</text>
<text x="300.8" y="373.2" font-family="Liberation Mono" font-size="18.0" font-weight="normal" fill="#111" text-anchor="start" textLength="55" lengthAdjust="spacingAndGlyphs" stroke="#111" stroke-width="0.3">DIOC2</text>
<text x="365.3" y="408.4" font-family="Liberation Mono" font-size="18.0" font-weight="normal" fill="#111" text-anchor="start" textLength="87.8" lengthAdjust="spacingAndGlyphs" stroke="#111" stroke-width="0.3">BASELINE</text>
<text x="321.1" y="455.9" font-family="Liberation Mono" font-size="18.0" font-weight="normal" fill="#23903a" text-anchor="start" textLength="65.6" lengthAdjust="spacingAndGlyphs" stroke="#23903a" stroke-width="0.6">NO CSA</text>
<text x="485.3" y="445.5" font-family="Liberation Mono" font-size="18.0" font-weight="normal" fill="#cc1040" text-anchor="start" textLength="33.4" lengthAdjust="spacingAndGlyphs" stroke="#cc1040" stroke-width="0.6">CSA</text>
</svg></body></html>
